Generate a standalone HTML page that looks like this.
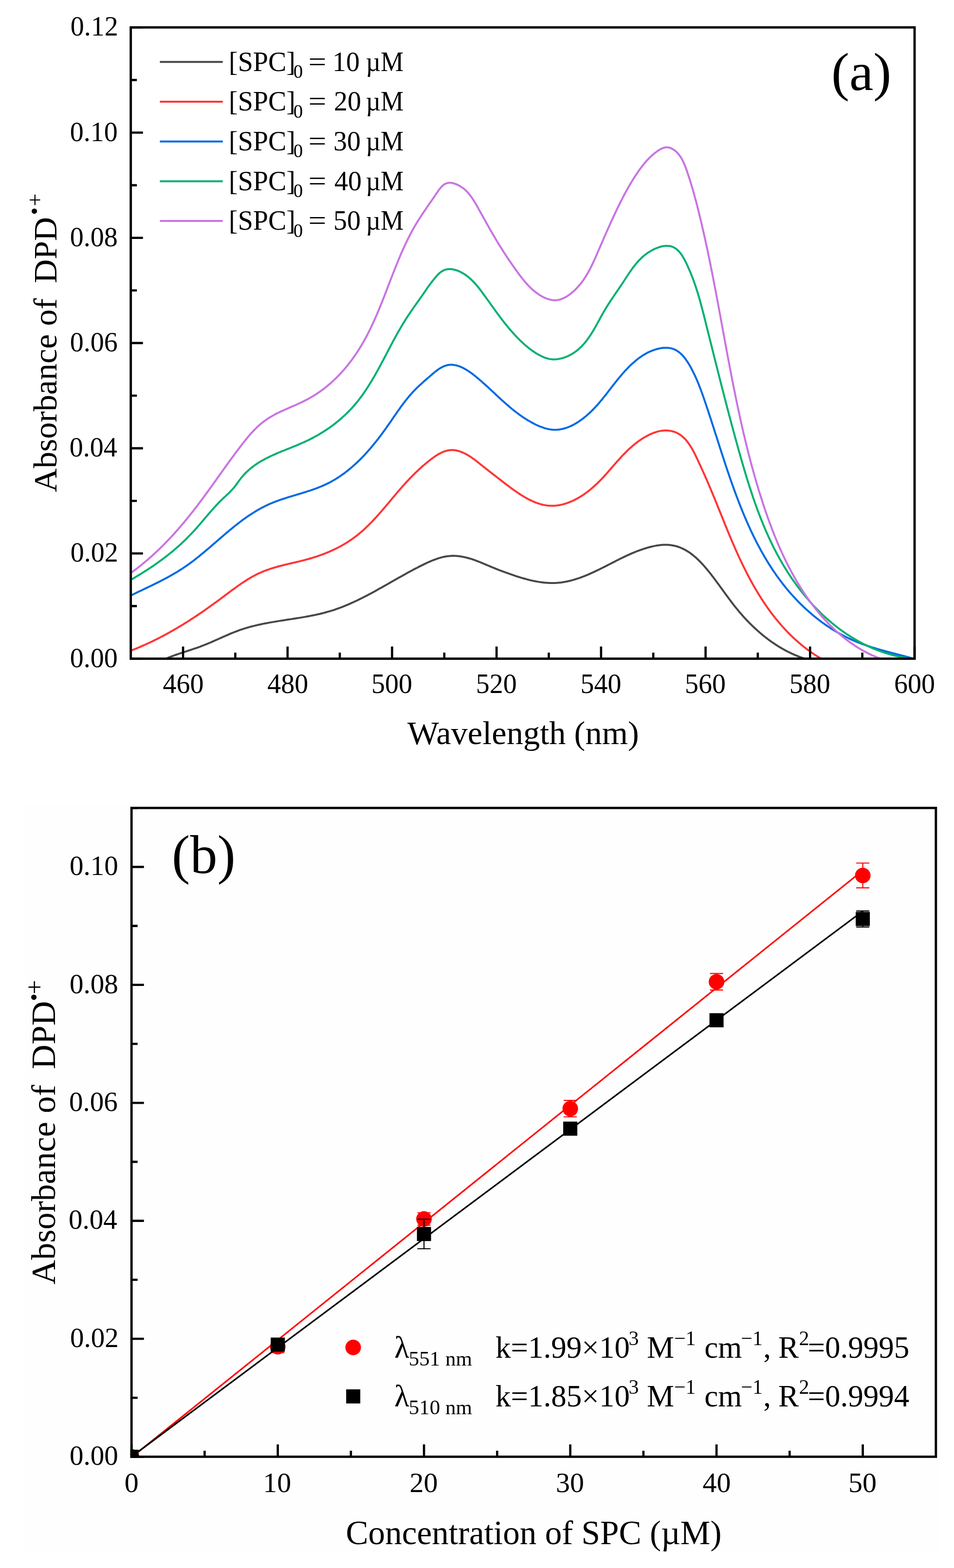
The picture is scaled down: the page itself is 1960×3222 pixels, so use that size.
<!DOCTYPE html>
<html><head><meta charset="utf-8"><title>Figure</title>
<style>html,body{margin:0;padding:0;background:#fff;}svg{display:block;}</style>
</head><body>
<svg width="1960" height="3222" viewBox="0 0 1960 3222" font-family="'Liberation Serif','Times New Roman',serif">
<rect x="0" y="0" width="1960" height="3222" fill="#ffffff"/>
<rect x="52" y="1653" width="1878" height="1534.5" fill="#fefefe"/>
<defs><clipPath id="clipA"><rect x="268.7" y="56.3" width="1610.3" height="1297.2"/></clipPath>
<clipPath id="clipB"><rect x="267.8" y="1657.8" width="1657.3999999999999" height="1338.0"/></clipPath></defs>
<g clip-path="url(#clipA)" fill="none" stroke-width="4" stroke-linejoin="round" stroke-linecap="round">
<path d="M335.1,1356.1 L337.8,1354.8 L340.5,1353.6 L343.3,1352.5 L346.0,1351.3 L348.8,1350.2 L351.6,1349.2 L354.4,1348.1 L357.2,1347.1 L360.0,1346.0 L362.8,1345.0 L365.7,1344.1 L368.5,1343.1 L371.3,1342.1 L374.2,1341.2 L377.0,1340.3 L379.9,1339.3 L382.7,1338.4 L385.6,1337.5 L388.4,1336.5 L391.3,1335.6 L394.1,1334.7 L397.0,1333.7 L399.8,1332.7 L402.6,1331.8 L405.5,1330.8 L408.3,1329.8 L411.1,1328.8 L413.9,1327.7 L416.7,1326.6 L419.5,1325.5 L422.3,1324.4 L425.1,1323.3 L427.8,1322.1 L430.6,1321.0 L433.4,1319.8 L436.1,1318.6 L438.9,1317.4 L441.6,1316.2 L444.3,1315.0 L447.1,1313.8 L449.8,1312.5 L452.6,1311.3 L455.3,1310.1 L458.0,1308.9 L460.8,1307.7 L463.5,1306.4 L466.3,1305.3 L469.0,1304.1 L471.8,1302.9 L474.5,1301.7 L477.3,1300.6 L480.1,1299.5 L482.8,1298.4 L485.6,1297.3 L488.4,1296.3 L491.2,1295.2 L494.0,1294.2 L496.8,1293.3 L499.7,1292.3 L502.5,1291.4 L505.4,1290.6 L508.2,1289.7 L511.1,1288.9 L514.0,1288.1 L516.9,1287.3 L519.8,1286.6 L522.7,1285.9 L525.6,1285.1 L528.5,1284.5 L531.4,1283.8 L534.4,1283.2 L537.3,1282.5 L540.3,1281.9 L543.2,1281.3 L546.2,1280.8 L549.1,1280.2 L552.1,1279.6 L555.0,1279.1 L558.0,1278.6 L561.0,1278.1 L564.0,1277.6 L566.9,1277.1 L569.9,1276.6 L572.9,1276.1 L575.9,1275.6 L578.9,1275.2 L581.9,1274.7 L584.9,1274.2 L587.9,1273.8 L590.8,1273.3 L593.8,1272.8 L596.8,1272.4 L599.8,1271.9 L602.8,1271.5 L605.8,1271.0 L608.8,1270.5 L611.8,1270.1 L614.7,1269.6 L617.7,1269.1 L620.7,1268.6 L623.6,1268.1 L626.6,1267.6 L629.6,1267.0 L632.5,1266.5 L635.5,1266.0 L638.4,1265.4 L641.4,1264.8 L644.3,1264.2 L647.2,1263.6 L650.2,1263.0 L653.1,1262.3 L656.0,1261.7 L658.9,1261.0 L661.8,1260.3 L664.6,1259.6 L667.5,1258.8 L670.4,1258.0 L673.2,1257.2 L676.1,1256.4 L678.9,1255.6 L681.8,1254.7 L684.6,1253.8 L687.4,1252.9 L690.2,1251.9 L693.0,1250.9 L695.8,1249.9 L698.5,1248.9 L701.3,1247.9 L704.0,1246.8 L706.8,1245.7 L709.5,1244.6 L712.3,1243.4 L715.0,1242.3 L717.7,1241.1 L720.4,1239.9 L723.1,1238.7 L725.8,1237.5 L728.5,1236.2 L731.2,1235.0 L733.9,1233.7 L736.6,1232.4 L739.2,1231.1 L741.9,1229.8 L744.6,1228.5 L747.2,1227.1 L749.9,1225.7 L752.5,1224.4 L755.2,1223.0 L757.8,1221.6 L760.5,1220.2 L763.1,1218.8 L765.7,1217.4 L768.4,1215.9 L771.0,1214.5 L773.6,1213.0 L776.2,1211.6 L778.8,1210.1 L781.5,1208.6 L784.1,1207.2 L786.7,1205.7 L789.3,1204.2 L791.9,1202.7 L794.6,1201.2 L797.2,1199.8 L799.8,1198.3 L802.4,1196.8 L805.0,1195.3 L807.6,1193.8 L810.3,1192.3 L812.9,1190.8 L815.5,1189.3 L818.1,1187.8 L820.8,1186.3 L823.4,1184.9 L826.0,1183.4 L828.6,1181.9 L831.3,1180.4 L833.9,1179.0 L836.6,1177.5 L839.2,1176.1 L841.9,1174.6 L844.5,1173.2 L847.2,1171.8 L849.8,1170.3 L852.5,1168.9 L855.2,1167.5 L857.9,1166.2 L860.5,1164.8 L863.2,1163.4 L865.9,1162.1 L868.6,1160.7 L871.3,1159.4 L874.1,1158.1 L876.8,1156.8 L879.5,1155.5 L882.2,1154.3 L885.0,1153.1 L887.7,1152.0 L890.5,1150.9 L893.3,1149.8 L896.1,1148.8 L898.8,1147.8 L901.7,1146.9 L904.5,1146.1 L907.3,1145.3 L910.1,1144.6 L913.0,1144.0 L915.8,1143.5 L918.7,1143.0 L921.6,1142.7 L924.5,1142.4 L927.4,1142.2 L930.3,1142.1 L933.2,1142.2 L936.2,1142.3 L939.1,1142.5 L942.1,1142.8 L945.1,1143.2 L948.0,1143.6 L951.0,1144.2 L953.9,1144.8 L956.9,1145.4 L959.8,1146.2 L962.8,1147.0 L965.7,1147.8 L968.6,1148.7 L971.5,1149.7 L974.4,1150.7 L977.2,1151.7 L980.1,1152.8 L982.9,1153.9 L985.7,1155.0 L988.6,1156.1 L991.4,1157.3 L994.2,1158.5 L996.9,1159.6 L999.7,1160.8 L1002.5,1162.0 L1005.3,1163.2 L1008.0,1164.3 L1010.8,1165.5 L1013.5,1166.6 L1016.3,1167.7 L1019.0,1168.8 L1021.8,1169.9 L1024.5,1171.0 L1027.3,1172.1 L1030.0,1173.1 L1032.8,1174.2 L1035.6,1175.2 L1038.3,1176.2 L1041.1,1177.2 L1043.9,1178.2 L1046.7,1179.2 L1049.6,1180.2 L1052.4,1181.2 L1055.3,1182.2 L1058.1,1183.1 L1061.0,1184.1 L1063.9,1185.0 L1066.8,1185.9 L1069.7,1186.8 L1072.6,1187.7 L1075.6,1188.5 L1078.5,1189.3 L1081.4,1190.1 L1084.4,1190.9 L1087.4,1191.7 L1090.3,1192.4 L1093.3,1193.1 L1096.3,1193.7 L1099.2,1194.3 L1102.2,1194.9 L1105.2,1195.4 L1108.2,1195.9 L1111.2,1196.3 L1114.1,1196.7 L1117.1,1197.1 L1120.1,1197.4 L1123.1,1197.6 L1126.1,1197.8 L1129.0,1198.0 L1132.0,1198.0 L1135.0,1198.1 L1137.9,1198.0 L1140.9,1197.9 L1143.8,1197.8 L1146.8,1197.5 L1149.7,1197.2 L1152.6,1196.9 L1155.5,1196.5 L1158.5,1196.0 L1161.4,1195.5 L1164.3,1195.0 L1167.1,1194.3 L1170.0,1193.7 L1172.9,1192.9 L1175.8,1192.2 L1178.6,1191.4 L1181.5,1190.5 L1184.3,1189.6 L1187.2,1188.7 L1190.0,1187.8 L1192.8,1186.8 L1195.6,1185.7 L1198.4,1184.7 L1201.2,1183.6 L1204.0,1182.4 L1206.8,1181.3 L1209.5,1180.1 L1212.3,1178.9 L1215.0,1177.7 L1217.8,1176.4 L1220.5,1175.2 L1223.2,1173.9 L1225.9,1172.6 L1228.6,1171.3 L1231.3,1170.0 L1234.0,1168.7 L1236.7,1167.3 L1239.4,1166.0 L1242.1,1164.6 L1244.7,1163.3 L1247.4,1161.9 L1250.1,1160.5 L1252.7,1159.2 L1255.4,1157.8 L1258.0,1156.4 L1260.7,1155.1 L1263.4,1153.7 L1266.0,1152.3 L1268.7,1151.0 L1271.4,1149.7 L1274.0,1148.3 L1276.7,1147.0 L1279.4,1145.7 L1282.1,1144.4 L1284.8,1143.1 L1287.5,1141.8 L1290.2,1140.6 L1293.0,1139.4 L1295.7,1138.1 L1298.5,1136.9 L1301.2,1135.8 L1304.0,1134.6 L1306.8,1133.5 L1309.6,1132.4 L1312.4,1131.3 L1315.2,1130.3 L1318.1,1129.3 L1321.0,1128.3 L1323.8,1127.4 L1326.8,1126.5 L1329.7,1125.6 L1332.6,1124.8 L1335.6,1124.0 L1338.5,1123.2 L1341.5,1122.6 L1344.5,1121.9 L1347.5,1121.4 L1350.5,1120.8 L1353.5,1120.4 L1356.5,1120.1 L1359.5,1119.8 L1362.5,1119.6 L1365.4,1119.5 L1368.4,1119.5 L1371.3,1119.6 L1374.3,1119.8 L1377.2,1120.1 L1380.1,1120.5 L1382.9,1120.9 L1385.8,1121.5 L1388.6,1122.2 L1391.4,1123.0 L1394.1,1123.9 L1396.8,1124.9 L1399.5,1126.0 L1402.1,1127.1 L1404.7,1128.4 L1407.3,1129.7 L1409.8,1131.2 L1412.3,1132.7 L1414.8,1134.2 L1417.2,1135.9 L1419.6,1137.6 L1421.9,1139.4 L1424.3,1141.2 L1426.6,1143.2 L1428.9,1145.1 L1431.1,1147.1 L1433.3,1149.2 L1435.5,1151.3 L1437.7,1153.5 L1439.8,1155.7 L1441.9,1157.9 L1444.0,1160.2 L1446.1,1162.5 L1448.1,1164.8 L1450.1,1167.1 L1452.1,1169.5 L1454.1,1171.9 L1456.0,1174.3 L1458.0,1176.7 L1459.9,1179.1 L1461.8,1181.5 L1463.6,1183.9 L1465.5,1186.3 L1467.3,1188.8 L1469.1,1191.2 L1470.9,1193.6 L1472.7,1196.0 L1474.5,1198.5 L1476.3,1200.9 L1478.1,1203.3 L1479.8,1205.7 L1481.6,1208.1 L1483.3,1210.5 L1485.1,1213.0 L1486.8,1215.4 L1488.6,1217.8 L1490.3,1220.2 L1492.1,1222.6 L1493.8,1225.0 L1495.6,1227.3 L1497.3,1229.7 L1499.1,1232.1 L1500.9,1234.5 L1502.6,1236.8 L1504.4,1239.2 L1506.2,1241.5 L1508.0,1243.9 L1509.9,1246.2 L1511.7,1248.5 L1513.6,1250.8 L1515.5,1253.1 L1517.4,1255.4 L1519.3,1257.7 L1521.2,1259.9 L1523.2,1262.2 L1525.1,1264.4 L1527.1,1266.7 L1529.1,1268.9 L1531.2,1271.1 L1533.2,1273.3 L1535.3,1275.5 L1537.4,1277.6 L1539.5,1279.8 L1541.6,1281.9 L1543.7,1284.0 L1545.9,1286.1 L1548.0,1288.2 L1550.2,1290.3 L1552.4,1292.3 L1554.6,1294.3 L1556.9,1296.3 L1559.1,1298.3 L1561.4,1300.3 L1563.7,1302.2 L1566.0,1304.2 L1568.3,1306.1 L1570.7,1308.0 L1573.1,1309.8 L1575.4,1311.6 L1577.8,1313.5 L1580.2,1315.3 L1582.7,1317.0 L1585.1,1318.8 L1587.6,1320.5 L1590.1,1322.2 L1592.6,1323.8 L1595.1,1325.5 L1597.6,1327.1 L1600.1,1328.7 L1602.7,1330.2 L1605.3,1331.8 L1607.9,1333.3 L1610.5,1334.7 L1613.1,1336.2 L1615.8,1337.6 L1618.4,1339.0 L1621.1,1340.3 L1623.8,1341.6 L1626.5,1342.9 L1629.2,1344.1 L1632.0,1345.4 L1634.7,1346.6 L1637.5,1347.7 L1640.3,1348.8 L1643.1,1349.9 L1645.9,1350.9 L1648.7,1352.0 L1651.6,1352.9 L1654.4,1353.9 L1657.3,1354.8 L1660.2,1355.6" stroke="#474747"/>
<path d="M269.7,1336.6 L272.6,1335.5 L275.4,1334.4 L278.2,1333.3 L281.0,1332.1 L283.8,1331.0 L286.5,1329.8 L289.3,1328.6 L292.1,1327.4 L294.8,1326.2 L297.6,1325.0 L300.3,1323.7 L303.0,1322.5 L305.7,1321.2 L308.5,1320.0 L311.2,1318.7 L313.9,1317.4 L316.5,1316.1 L319.2,1314.7 L321.9,1313.4 L324.6,1312.1 L327.2,1310.7 L329.9,1309.3 L332.5,1308.0 L335.2,1306.6 L337.8,1305.2 L340.4,1303.8 L343.0,1302.3 L345.6,1300.9 L348.2,1299.5 L350.8,1298.0 L353.4,1296.5 L356.0,1295.1 L358.6,1293.6 L361.2,1292.1 L363.7,1290.6 L366.3,1289.0 L368.8,1287.5 L371.4,1286.0 L373.9,1284.4 L376.5,1282.9 L379.0,1281.3 L381.5,1279.7 L384.1,1278.1 L386.6,1276.6 L389.1,1275.0 L391.6,1273.3 L394.1,1271.7 L396.6,1270.1 L399.1,1268.5 L401.6,1266.8 L404.1,1265.2 L406.6,1263.5 L409.0,1261.8 L411.5,1260.1 L414.0,1258.5 L416.4,1256.8 L418.9,1255.1 L421.4,1253.4 L423.8,1251.6 L426.3,1249.9 L428.7,1248.2 L431.2,1246.4 L433.6,1244.7 L436.1,1242.9 L438.5,1241.2 L440.9,1239.4 L443.4,1237.6 L445.8,1235.9 L448.2,1234.1 L450.6,1232.3 L453.1,1230.5 L455.5,1228.7 L457.9,1226.9 L460.3,1225.1 L462.7,1223.2 L465.2,1221.4 L467.6,1219.6 L470.0,1217.8 L472.4,1216.0 L474.8,1214.2 L477.3,1212.4 L479.7,1210.6 L482.1,1208.8 L484.6,1207.0 L487.0,1205.3 L489.5,1203.5 L491.9,1201.8 L494.4,1200.1 L496.9,1198.4 L499.4,1196.7 L501.9,1195.1 L504.4,1193.5 L506.9,1191.9 L509.4,1190.3 L512.0,1188.8 L514.5,1187.2 L517.1,1185.8 L519.7,1184.3 L522.3,1182.9 L524.9,1181.5 L527.5,1180.2 L530.2,1178.9 L532.8,1177.7 L535.5,1176.5 L538.2,1175.3 L540.9,1174.2 L543.7,1173.1 L546.4,1172.0 L549.2,1171.0 L552.0,1170.1 L554.8,1169.1 L557.6,1168.2 L560.4,1167.3 L563.3,1166.5 L566.1,1165.6 L569.0,1164.8 L571.9,1164.0 L574.7,1163.2 L577.6,1162.5 L580.5,1161.8 L583.4,1161.0 L586.3,1160.3 L589.2,1159.6 L592.2,1158.9 L595.1,1158.2 L598.0,1157.5 L600.9,1156.8 L603.9,1156.1 L606.8,1155.5 L609.7,1154.8 L612.7,1154.1 L615.6,1153.4 L618.5,1152.6 L621.4,1151.9 L624.4,1151.2 L627.3,1150.4 L630.2,1149.6 L633.1,1148.8 L636.0,1148.0 L638.9,1147.2 L641.8,1146.3 L644.6,1145.4 L647.5,1144.5 L650.4,1143.6 L653.2,1142.6 L656.1,1141.6 L658.9,1140.6 L661.7,1139.6 L664.5,1138.5 L667.3,1137.5 L670.1,1136.4 L672.8,1135.2 L675.6,1134.1 L678.3,1132.9 L681.1,1131.7 L683.8,1130.4 L686.5,1129.1 L689.2,1127.9 L691.8,1126.5 L694.5,1125.2 L697.1,1123.8 L699.7,1122.4 L702.3,1120.9 L704.9,1119.5 L707.5,1118.0 L710.0,1116.5 L712.6,1114.9 L715.1,1113.3 L717.5,1111.7 L720.0,1110.0 L722.5,1108.4 L724.9,1106.7 L727.3,1104.9 L729.6,1103.1 L732.0,1101.3 L734.3,1099.5 L736.6,1097.6 L738.9,1095.7 L741.2,1093.8 L743.4,1091.9 L745.7,1089.9 L747.9,1087.9 L750.1,1085.9 L752.3,1083.8 L754.4,1081.7 L756.6,1079.6 L758.7,1077.5 L760.8,1075.4 L762.9,1073.3 L765.0,1071.1 L767.1,1068.9 L769.1,1066.7 L771.2,1064.5 L773.2,1062.3 L775.2,1060.0 L777.3,1057.8 L779.3,1055.5 L781.3,1053.2 L783.3,1051.0 L785.2,1048.7 L787.2,1046.4 L789.2,1044.1 L791.2,1041.8 L793.1,1039.4 L795.1,1037.1 L797.0,1034.8 L799.0,1032.5 L800.9,1030.2 L802.9,1027.9 L804.8,1025.5 L806.7,1023.2 L808.7,1020.9 L810.6,1018.6 L812.6,1016.3 L814.5,1014.0 L816.4,1011.7 L818.4,1009.4 L820.3,1007.2 L822.3,1004.9 L824.3,1002.7 L826.2,1000.4 L828.2,998.2 L830.2,996.0 L832.1,993.8 L834.1,991.6 L836.1,989.4 L838.1,987.3 L840.2,985.1 L842.2,983.0 L844.2,980.9 L846.3,978.8 L848.4,976.7 L850.5,974.6 L852.6,972.5 L854.7,970.4 L856.8,968.4 L859.0,966.4 L861.2,964.3 L863.4,962.3 L865.6,960.3 L867.8,958.3 L870.1,956.4 L872.4,954.4 L874.7,952.4 L877.1,950.5 L879.5,948.5 L881.9,946.6 L884.3,944.7 L886.8,942.8 L889.3,941.0 L891.8,939.2 L894.3,937.4 L896.9,935.7 L899.5,934.1 L902.1,932.6 L904.8,931.2 L907.5,929.9 L910.1,928.7 L912.9,927.7 L915.6,926.8 L918.3,926.0 L921.1,925.4 L923.9,925.0 L926.7,924.8 L929.6,924.8 L932.4,924.9 L935.3,925.3 L938.1,925.8 L941.0,926.5 L943.8,927.3 L946.7,928.3 L949.5,929.4 L952.4,930.7 L955.2,932.0 L957.9,933.4 L960.7,935.0 L963.4,936.6 L966.1,938.3 L968.7,940.1 L971.3,941.9 L973.9,943.7 L976.4,945.6 L978.9,947.5 L981.3,949.4 L983.7,951.3 L986.1,953.3 L988.4,955.1 L990.8,957.0 L993.0,958.8 L995.3,960.6 L997.6,962.4 L999.8,964.2 L1002.1,965.9 L1004.3,967.7 L1006.5,969.4 L1008.7,971.1 L1011.0,972.9 L1013.2,974.6 L1015.4,976.3 L1017.7,978.0 L1019.9,979.8 L1022.2,981.5 L1024.5,983.3 L1026.8,985.1 L1029.1,986.9 L1031.5,988.7 L1033.8,990.6 L1036.2,992.4 L1038.7,994.3 L1041.1,996.1 L1043.6,998.0 L1046.1,999.9 L1048.6,1001.8 L1051.1,1003.6 L1053.6,1005.5 L1056.2,1007.3 L1058.8,1009.1 L1061.4,1010.9 L1064.0,1012.7 L1066.6,1014.5 L1069.3,1016.2 L1071.9,1017.9 L1074.6,1019.5 L1077.3,1021.1 L1080.0,1022.7 L1082.7,1024.2 L1085.5,1025.7 L1088.2,1027.1 L1091.0,1028.4 L1093.8,1029.7 L1096.5,1030.9 L1099.3,1032.1 L1102.1,1033.2 L1104.9,1034.2 L1107.7,1035.1 L1110.6,1035.9 L1113.4,1036.7 L1116.2,1037.4 L1119.1,1037.9 L1121.9,1038.4 L1124.7,1038.8 L1127.6,1039.1 L1130.5,1039.3 L1133.3,1039.3 L1136.2,1039.3 L1139.0,1039.2 L1141.9,1039.0 L1144.8,1038.6 L1147.6,1038.2 L1150.5,1037.7 L1153.3,1037.1 L1156.1,1036.4 L1159.0,1035.7 L1161.8,1034.8 L1164.6,1033.9 L1167.4,1032.9 L1170.2,1031.9 L1172.9,1030.7 L1175.7,1029.5 L1178.4,1028.3 L1181.1,1026.9 L1183.8,1025.5 L1186.5,1024.1 L1189.1,1022.6 L1191.7,1021.0 L1194.3,1019.4 L1196.9,1017.8 L1199.4,1016.1 L1201.9,1014.3 L1204.4,1012.5 L1206.9,1010.7 L1209.3,1008.9 L1211.7,1007.0 L1214.0,1005.1 L1216.3,1003.1 L1218.6,1001.1 L1220.8,999.1 L1223.0,997.1 L1225.2,995.1 L1227.4,993.0 L1229.5,990.9 L1231.6,988.8 L1233.6,986.7 L1235.7,984.6 L1237.7,982.4 L1239.7,980.3 L1241.7,978.1 L1243.7,975.9 L1245.7,973.7 L1247.6,971.5 L1249.6,969.3 L1251.5,967.1 L1253.5,964.8 L1255.4,962.6 L1257.3,960.4 L1259.2,958.2 L1261.2,955.9 L1263.1,953.7 L1265.1,951.5 L1267.0,949.2 L1269.0,947.0 L1271.0,944.8 L1273.0,942.6 L1275.0,940.4 L1277.0,938.2 L1279.0,936.1 L1281.1,933.9 L1283.2,931.8 L1285.3,929.6 L1287.4,927.5 L1289.6,925.4 L1291.8,923.3 L1294.0,921.3 L1296.3,919.2 L1298.6,917.2 L1300.9,915.2 L1303.3,913.3 L1305.7,911.3 L1308.2,909.4 L1310.7,907.5 L1313.3,905.7 L1315.9,903.9 L1318.5,902.1 L1321.1,900.4 L1323.8,898.8 L1326.6,897.2 L1329.3,895.7 L1332.1,894.2 L1334.8,892.8 L1337.7,891.6 L1340.5,890.4 L1343.3,889.3 L1346.2,888.3 L1349.0,887.4 L1351.9,886.6 L1354.8,885.9 L1357.6,885.4 L1360.5,885.0 L1363.4,884.7 L1366.2,884.5 L1369.1,884.5 L1371.9,884.7 L1374.8,884.9 L1377.6,885.4 L1380.4,886.0 L1383.1,886.7 L1385.8,887.5 L1388.4,888.5 L1391.0,889.7 L1393.5,891.0 L1395.9,892.4 L1398.2,894.0 L1400.5,895.7 L1402.6,897.5 L1404.7,899.4 L1406.8,901.5 L1408.8,903.6 L1410.7,905.8 L1412.5,908.2 L1414.3,910.6 L1416.1,913.0 L1417.8,915.6 L1419.4,918.2 L1421.0,920.9 L1422.6,923.6 L1424.1,926.3 L1425.6,929.1 L1427.0,931.9 L1428.4,934.7 L1429.8,937.6 L1431.2,940.4 L1432.6,943.3 L1433.9,946.2 L1435.2,949.0 L1436.5,951.8 L1437.8,954.6 L1439.1,957.4 L1440.4,960.2 L1441.6,963.0 L1442.9,965.7 L1444.1,968.5 L1445.4,971.2 L1446.6,974.0 L1447.8,976.7 L1449.0,979.4 L1450.2,982.1 L1451.4,984.8 L1452.6,987.5 L1453.7,990.2 L1454.9,993.0 L1456.1,995.7 L1457.2,998.4 L1458.4,1001.1 L1459.5,1003.8 L1460.7,1006.5 L1461.8,1009.2 L1462.9,1011.9 L1464.1,1014.6 L1465.2,1017.3 L1466.3,1020.1 L1467.4,1022.8 L1468.6,1025.5 L1469.7,1028.3 L1470.8,1031.0 L1471.9,1033.7 L1473.0,1036.5 L1474.1,1039.2 L1475.2,1042.0 L1476.3,1044.7 L1477.5,1047.5 L1478.6,1050.3 L1479.7,1053.0 L1480.8,1055.8 L1481.9,1058.6 L1483.0,1061.3 L1484.1,1064.1 L1485.2,1066.9 L1486.4,1069.6 L1487.5,1072.4 L1488.6,1075.2 L1489.7,1077.9 L1490.9,1080.7 L1492.0,1083.5 L1493.1,1086.3 L1494.3,1089.0 L1495.4,1091.8 L1496.5,1094.6 L1497.7,1097.3 L1498.8,1100.1 L1500.0,1102.9 L1501.2,1105.7 L1502.3,1108.4 L1503.5,1111.2 L1504.7,1114.0 L1505.9,1116.7 L1507.1,1119.5 L1508.3,1122.2 L1509.5,1125.0 L1510.7,1127.8 L1511.9,1130.5 L1513.1,1133.3 L1514.4,1136.0 L1515.6,1138.8 L1516.9,1141.5 L1518.1,1144.3 L1519.4,1147.0 L1520.7,1149.7 L1521.9,1152.5 L1523.2,1155.2 L1524.5,1157.9 L1525.9,1160.6 L1527.2,1163.3 L1528.5,1166.0 L1529.8,1168.7 L1531.2,1171.4 L1532.6,1174.1 L1533.9,1176.8 L1535.3,1179.5 L1536.7,1182.2 L1538.1,1184.8 L1539.5,1187.5 L1540.9,1190.2 L1542.4,1192.8 L1543.8,1195.5 L1545.3,1198.1 L1546.7,1200.7 L1548.2,1203.3 L1549.7,1205.9 L1551.2,1208.5 L1552.7,1211.1 L1554.3,1213.7 L1555.8,1216.3 L1557.4,1218.9 L1558.9,1221.4 L1560.5,1224.0 L1562.1,1226.5 L1563.7,1229.1 L1565.3,1231.6 L1566.9,1234.1 L1568.6,1236.6 L1570.2,1239.1 L1571.9,1241.5 L1573.6,1244.0 L1575.3,1246.5 L1577.0,1248.9 L1578.7,1251.3 L1580.5,1253.8 L1582.2,1256.2 L1584.0,1258.6 L1585.8,1261.0 L1587.6,1263.3 L1589.4,1265.7 L1591.3,1268.0 L1593.1,1270.4 L1595.0,1272.7 L1596.9,1275.0 L1598.8,1277.3 L1600.7,1279.5 L1602.6,1281.8 L1604.5,1284.0 L1606.5,1286.3 L1608.5,1288.5 L1610.5,1290.7 L1612.5,1292.9 L1614.5,1295.1 L1616.6,1297.2 L1618.6,1299.3 L1620.7,1301.5 L1622.8,1303.6 L1624.9,1305.7 L1627.1,1307.7 L1629.2,1309.8 L1631.4,1311.8 L1633.6,1313.8 L1635.8,1315.8 L1638.1,1317.8 L1640.3,1319.8 L1642.6,1321.7 L1644.9,1323.7 L1647.2,1325.6 L1649.5,1327.5 L1651.8,1329.3 L1654.2,1331.2 L1656.6,1333.0 L1659.0,1334.8 L1661.4,1336.6 L1663.9,1338.4 L1666.3,1340.1 L1668.8,1341.9 L1671.3,1343.6 L1673.9,1345.3 L1676.4,1346.9 L1679.0,1348.6 L1681.6,1350.2 L1684.2,1351.8 L1686.9,1353.4 L1689.5,1355.0 L1692.2,1356.5" stroke="#ff3535"/>
<path d="M269.9,1223.1 L272.6,1221.8 L275.2,1220.5 L277.9,1219.2 L280.6,1217.9 L283.3,1216.6 L286.0,1215.3 L288.7,1214.0 L291.4,1212.8 L294.0,1211.5 L296.7,1210.2 L299.4,1208.9 L302.1,1207.6 L304.9,1206.3 L307.6,1205.0 L310.3,1203.7 L313.0,1202.4 L315.7,1201.1 L318.3,1199.7 L321.0,1198.4 L323.7,1197.1 L326.4,1195.7 L329.1,1194.4 L331.8,1193.0 L334.4,1191.6 L337.1,1190.2 L339.8,1188.8 L342.4,1187.4 L345.0,1186.0 L347.7,1184.5 L350.3,1183.1 L352.9,1181.6 L355.5,1180.1 L358.1,1178.6 L360.7,1177.1 L363.2,1175.6 L365.8,1174.0 L368.3,1172.4 L370.8,1170.8 L373.4,1169.2 L375.8,1167.6 L378.3,1165.9 L380.8,1164.2 L383.2,1162.5 L385.7,1160.8 L388.1,1159.1 L390.5,1157.3 L392.9,1155.5 L395.3,1153.8 L397.7,1152.0 L400.0,1150.1 L402.4,1148.3 L404.7,1146.5 L407.1,1144.6 L409.4,1142.7 L411.7,1140.8 L414.0,1138.9 L416.3,1137.0 L418.6,1135.1 L420.9,1133.2 L423.2,1131.3 L425.5,1129.3 L427.8,1127.4 L430.1,1125.5 L432.3,1123.5 L434.6,1121.5 L436.9,1119.6 L439.1,1117.6 L441.4,1115.7 L443.7,1113.7 L445.9,1111.7 L448.2,1109.8 L450.5,1107.8 L452.7,1105.8 L455.0,1103.9 L457.3,1101.9 L459.5,1100.0 L461.8,1098.0 L464.1,1096.1 L466.4,1094.1 L468.7,1092.2 L471.0,1090.3 L473.3,1088.4 L475.6,1086.5 L477.9,1084.6 L480.2,1082.7 L482.6,1080.8 L484.9,1079.0 L487.2,1077.1 L489.6,1075.3 L492.0,1073.5 L494.3,1071.7 L496.7,1069.9 L499.1,1068.1 L501.5,1066.4 L504.0,1064.6 L506.4,1062.9 L508.8,1061.2 L511.3,1059.5 L513.8,1057.9 L516.3,1056.3 L518.8,1054.6 L521.3,1053.1 L523.8,1051.5 L526.3,1050.0 L528.9,1048.5 L531.5,1047.0 L534.1,1045.5 L536.7,1044.1 L539.3,1042.7 L541.9,1041.4 L544.6,1040.0 L547.3,1038.7 L550.0,1037.4 L552.7,1036.2 L555.4,1035.0 L558.2,1033.8 L561.0,1032.7 L563.8,1031.6 L566.6,1030.5 L569.4,1029.5 L572.2,1028.4 L575.1,1027.4 L577.9,1026.4 L580.8,1025.5 L583.7,1024.5 L586.6,1023.6 L589.5,1022.6 L592.4,1021.7 L595.3,1020.8 L598.2,1019.9 L601.2,1019.1 L604.1,1018.2 L607.0,1017.3 L609.9,1016.4 L612.9,1015.5 L615.8,1014.7 L618.7,1013.8 L621.6,1012.9 L624.5,1012.0 L627.4,1011.1 L630.3,1010.2 L633.2,1009.2 L636.1,1008.3 L639.0,1007.3 L641.8,1006.4 L644.7,1005.4 L647.5,1004.3 L650.4,1003.3 L653.2,1002.2 L656.0,1001.1 L658.7,1000.0 L661.5,998.9 L664.2,997.7 L666.9,996.4 L669.6,995.2 L672.3,993.9 L674.9,992.6 L677.6,991.2 L680.2,989.8 L682.8,988.4 L685.3,986.9 L687.9,985.4 L690.4,983.9 L692.9,982.3 L695.4,980.7 L697.8,979.1 L700.3,977.4 L702.7,975.7 L705.1,974.0 L707.5,972.3 L709.8,970.5 L712.2,968.7 L714.5,966.9 L716.8,965.0 L719.1,963.1 L721.4,961.2 L723.6,959.3 L725.9,957.3 L728.1,955.3 L730.3,953.3 L732.5,951.3 L734.6,949.3 L736.8,947.2 L738.9,945.1 L741.0,943.0 L743.1,940.9 L745.2,938.7 L747.3,936.6 L749.3,934.4 L751.4,932.2 L753.4,929.9 L755.4,927.7 L757.4,925.4 L759.4,923.2 L761.3,920.9 L763.3,918.6 L765.2,916.3 L767.1,914.0 L769.0,911.6 L770.9,909.3 L772.8,906.9 L774.7,904.5 L776.6,902.2 L778.4,899.8 L780.2,897.4 L782.1,895.0 L783.9,892.5 L785.7,890.1 L787.4,887.7 L789.2,885.3 L791.0,882.8 L792.7,880.4 L794.5,877.9 L796.2,875.4 L797.9,873.0 L799.6,870.5 L801.4,868.1 L803.1,865.6 L804.8,863.1 L806.4,860.7 L808.1,858.2 L809.8,855.7 L811.5,853.3 L813.2,850.8 L814.9,848.4 L816.6,845.9 L818.3,843.5 L820.1,841.1 L821.8,838.6 L823.5,836.2 L825.3,833.8 L827.0,831.4 L828.8,829.1 L830.6,826.7 L832.4,824.3 L834.3,822.0 L836.1,819.7 L838.0,817.4 L839.9,815.1 L841.8,812.8 L843.8,810.6 L845.8,808.3 L847.8,806.1 L849.8,803.9 L851.9,801.8 L854.0,799.6 L856.1,797.5 L858.3,795.4 L860.5,793.3 L862.7,791.2 L865.0,789.2 L867.2,787.2 L869.5,785.1 L871.8,783.1 L874.1,781.1 L876.4,779.0 L878.8,777.0 L881.1,775.0 L883.4,772.9 L885.7,770.9 L888.1,768.9 L890.4,766.9 L892.8,765.0 L895.1,763.1 L897.5,761.3 L899.9,759.5 L902.3,757.9 L904.7,756.3 L907.2,754.9 L909.7,753.7 L912.2,752.5 L914.8,751.6 L917.4,750.8 L920.0,750.1 L922.7,749.7 L925.4,749.5 L928.1,749.5 L930.9,749.7 L933.7,750.1 L936.5,750.6 L939.3,751.3 L942.1,752.2 L944.9,753.2 L947.6,754.3 L950.3,755.6 L953.0,756.9 L955.7,758.4 L958.3,759.9 L961.0,761.6 L963.6,763.3 L966.1,765.1 L968.7,766.9 L971.2,768.8 L973.7,770.8 L976.2,772.7 L978.6,774.7 L981.1,776.8 L983.5,778.8 L985.8,780.8 L988.2,782.8 L990.5,784.9 L992.8,786.9 L995.1,788.9 L997.4,791.0 L999.6,793.0 L1001.9,795.1 L1004.1,797.1 L1006.3,799.2 L1008.5,801.2 L1010.7,803.3 L1012.9,805.3 L1015.1,807.3 L1017.2,809.3 L1019.4,811.4 L1021.6,813.4 L1023.7,815.4 L1025.9,817.4 L1028.1,819.4 L1030.2,821.4 L1032.4,823.4 L1034.6,825.3 L1036.8,827.3 L1039.0,829.2 L1041.2,831.2 L1043.4,833.1 L1045.6,835.0 L1047.8,836.9 L1050.1,838.8 L1052.3,840.7 L1054.6,842.5 L1056.9,844.3 L1059.2,846.2 L1061.6,848.0 L1063.9,849.7 L1066.3,851.5 L1068.7,853.2 L1071.2,855.0 L1073.6,856.6 L1076.1,858.3 L1078.6,860.0 L1081.2,861.6 L1083.8,863.2 L1086.4,864.8 L1089.1,866.3 L1091.8,867.9 L1094.5,869.3 L1097.3,870.8 L1100.0,872.2 L1102.9,873.5 L1105.7,874.8 L1108.5,876.0 L1111.4,877.2 L1114.3,878.2 L1117.2,879.2 L1120.1,880.1 L1123.0,880.9 L1126.0,881.5 L1128.9,882.1 L1131.8,882.6 L1134.7,882.9 L1137.7,883.1 L1140.6,883.2 L1143.5,883.1 L1146.4,882.9 L1149.3,882.5 L1152.2,882.1 L1155.0,881.5 L1157.9,880.8 L1160.7,880.0 L1163.5,879.1 L1166.3,878.1 L1169.1,877.0 L1171.8,875.8 L1174.6,874.6 L1177.3,873.2 L1179.9,871.8 L1182.6,870.3 L1185.2,868.7 L1187.8,867.1 L1190.3,865.4 L1192.8,863.6 L1195.3,861.9 L1197.7,860.0 L1200.1,858.1 L1202.5,856.2 L1204.8,854.3 L1207.1,852.3 L1209.3,850.3 L1211.5,848.3 L1213.7,846.2 L1215.9,844.1 L1218.0,842.0 L1220.0,839.9 L1222.1,837.7 L1224.1,835.5 L1226.1,833.3 L1228.1,831.1 L1230.0,828.9 L1232.0,826.6 L1233.9,824.3 L1235.8,822.1 L1237.7,819.8 L1239.5,817.4 L1241.4,815.1 L1243.3,812.8 L1245.1,810.5 L1246.9,808.1 L1248.8,805.8 L1250.6,803.4 L1252.4,801.0 L1254.2,798.7 L1256.1,796.3 L1257.9,793.9 L1259.7,791.6 L1261.6,789.2 L1263.4,786.9 L1265.3,784.5 L1267.2,782.2 L1269.0,779.8 L1270.9,777.5 L1272.9,775.2 L1274.8,772.9 L1276.7,770.6 L1278.7,768.3 L1280.7,766.0 L1282.7,763.7 L1284.8,761.5 L1286.9,759.3 L1289.0,757.1 L1291.1,754.9 L1293.2,752.7 L1295.4,750.6 L1297.7,748.5 L1299.9,746.4 L1302.2,744.4 L1304.5,742.4 L1306.9,740.4 L1309.2,738.5 L1311.7,736.7 L1314.1,734.9 L1316.6,733.1 L1319.1,731.4 L1321.6,729.8 L1324.2,728.2 L1326.8,726.7 L1329.4,725.3 L1332.1,723.9 L1334.8,722.7 L1337.6,721.5 L1340.3,720.3 L1343.2,719.3 L1346.0,718.4 L1348.9,717.5 L1351.8,716.7 L1354.7,716.1 L1357.7,715.5 L1360.6,715.1 L1363.6,714.8 L1366.5,714.7 L1369.5,714.7 L1372.3,714.8 L1375.2,715.1 L1378.0,715.6 L1380.7,716.3 L1383.4,717.1 L1386.0,718.2 L1388.5,719.4 L1390.9,720.8 L1393.3,722.4 L1395.6,724.1 L1397.8,726.0 L1400.0,728.0 L1402.1,730.2 L1404.1,732.4 L1406.1,734.8 L1408.0,737.2 L1409.8,739.8 L1411.6,742.4 L1413.4,745.0 L1415.0,747.7 L1416.7,750.5 L1418.3,753.2 L1419.8,756.0 L1421.3,758.8 L1422.7,761.6 L1424.1,764.4 L1425.5,767.1 L1426.8,769.9 L1428.1,772.7 L1429.4,775.4 L1430.6,778.2 L1431.8,780.9 L1433.0,783.7 L1434.1,786.4 L1435.2,789.2 L1436.3,791.9 L1437.4,794.7 L1438.4,797.4 L1439.5,800.1 L1440.5,802.9 L1441.5,805.6 L1442.5,808.4 L1443.5,811.1 L1444.4,813.9 L1445.4,816.6 L1446.4,819.4 L1447.3,822.2 L1448.3,824.9 L1449.2,827.7 L1450.2,830.5 L1451.1,833.3 L1452.0,836.1 L1453.0,838.9 L1453.9,841.7 L1454.8,844.5 L1455.8,847.3 L1456.7,850.1 L1457.6,852.9 L1458.5,855.7 L1459.5,858.6 L1460.4,861.4 L1461.3,864.2 L1462.2,867.0 L1463.1,869.9 L1464.1,872.7 L1465.0,875.6 L1465.9,878.4 L1466.8,881.3 L1467.7,884.1 L1468.6,887.0 L1469.5,889.8 L1470.5,892.7 L1471.4,895.5 L1472.3,898.4 L1473.2,901.2 L1474.1,904.1 L1475.0,907.0 L1476.0,909.8 L1476.9,912.7 L1477.8,915.6 L1478.7,918.5 L1479.6,921.3 L1480.6,924.2 L1481.5,927.1 L1482.4,929.9 L1483.4,932.8 L1484.3,935.7 L1485.2,938.6 L1486.2,941.4 L1487.1,944.3 L1488.0,947.2 L1489.0,950.1 L1489.9,952.9 L1490.9,955.8 L1491.8,958.7 L1492.8,961.6 L1493.8,964.4 L1494.7,967.3 L1495.7,970.2 L1496.7,973.0 L1497.7,975.9 L1498.6,978.8 L1499.6,981.6 L1500.6,984.5 L1501.6,987.4 L1502.6,990.2 L1503.6,993.1 L1504.6,995.9 L1505.7,998.8 L1506.7,1001.6 L1507.7,1004.5 L1508.7,1007.3 L1509.8,1010.2 L1510.8,1013.0 L1511.9,1015.9 L1512.9,1018.7 L1514.0,1021.5 L1515.1,1024.4 L1516.1,1027.2 L1517.2,1030.0 L1518.3,1032.8 L1519.4,1035.6 L1520.5,1038.5 L1521.6,1041.3 L1522.7,1044.1 L1523.9,1046.9 L1525.0,1049.7 L1526.1,1052.4 L1527.3,1055.2 L1528.4,1058.0 L1529.6,1060.8 L1530.8,1063.6 L1532.0,1066.3 L1533.2,1069.1 L1534.4,1071.8 L1535.6,1074.6 L1536.8,1077.3 L1538.0,1080.1 L1539.3,1082.8 L1540.5,1085.5 L1541.8,1088.3 L1543.0,1091.0 L1544.3,1093.7 L1545.6,1096.4 L1546.9,1099.1 L1548.2,1101.8 L1549.5,1104.5 L1550.9,1107.1 L1552.2,1109.8 L1553.5,1112.5 L1554.9,1115.1 L1556.3,1117.8 L1557.7,1120.4 L1559.1,1123.1 L1560.5,1125.7 L1561.9,1128.3 L1563.3,1130.9 L1564.8,1133.5 L1566.2,1136.1 L1567.7,1138.7 L1569.2,1141.3 L1570.7,1143.9 L1572.2,1146.4 L1573.7,1149.0 L1575.2,1151.5 L1576.8,1154.1 L1578.3,1156.6 L1579.9,1159.1 L1581.5,1161.6 L1583.1,1164.1 L1584.7,1166.6 L1586.3,1169.1 L1587.9,1171.6 L1589.6,1174.0 L1591.3,1176.5 L1593.0,1178.9 L1594.6,1181.3 L1596.4,1183.8 L1598.1,1186.2 L1599.8,1188.6 L1601.6,1191.0 L1603.4,1193.4 L1605.2,1195.7 L1607.0,1198.1 L1608.8,1200.4 L1610.6,1202.8 L1612.5,1205.1 L1614.3,1207.4 L1616.2,1209.7 L1618.1,1212.0 L1620.0,1214.3 L1622.0,1216.5 L1623.9,1218.8 L1625.9,1221.0 L1627.9,1223.3 L1629.9,1225.5 L1631.9,1227.7 L1633.9,1229.9 L1636.0,1232.0 L1638.1,1234.2 L1640.2,1236.4 L1642.3,1238.5 L1644.4,1240.6 L1646.5,1242.7 L1648.7,1244.8 L1650.9,1246.9 L1653.1,1249.0 L1655.3,1251.0 L1657.5,1253.1 L1659.8,1255.1 L1662.0,1257.1 L1664.3,1259.1 L1666.6,1261.1 L1668.9,1263.0 L1671.2,1265.0 L1673.5,1266.9 L1675.9,1268.8 L1678.3,1270.7 L1680.7,1272.5 L1683.0,1274.4 L1685.5,1276.2 L1687.9,1278.0 L1690.3,1279.8 L1692.8,1281.5 L1695.3,1283.3 L1697.7,1285.0 L1700.2,1286.7 L1702.7,1288.4 L1705.3,1290.1 L1707.8,1291.7 L1710.3,1293.3 L1712.9,1294.9 L1715.5,1296.5 L1718.1,1298.0 L1720.7,1299.5 L1723.3,1301.0 L1725.9,1302.5 L1728.5,1304.0 L1731.2,1305.4 L1733.9,1306.8 L1736.5,1308.1 L1739.2,1309.5 L1741.9,1310.8 L1744.6,1312.1 L1747.3,1313.4 L1750.1,1314.6 L1752.8,1315.8 L1755.5,1317.0 L1758.3,1318.2 L1761.1,1319.3 L1763.9,1320.4 L1766.6,1321.5 L1769.4,1322.6 L1772.2,1323.6 L1775.1,1324.6 L1777.9,1325.6 L1780.7,1326.6 L1783.5,1327.5 L1786.4,1328.5 L1789.2,1329.4 L1792.1,1330.3 L1795.0,1331.2 L1797.8,1332.0 L1800.7,1332.9 L1803.6,1333.8 L1806.5,1334.6 L1809.3,1335.4 L1812.2,1336.2 L1815.1,1337.0 L1818.0,1337.8 L1820.9,1338.6 L1823.8,1339.4 L1826.7,1340.2 L1829.6,1340.9 L1832.5,1341.7 L1835.4,1342.4 L1838.3,1343.2 L1841.2,1344.0 L1844.1,1344.7 L1847.0,1345.5 L1849.9,1346.2 L1852.8,1347.0 L1855.7,1347.7 L1858.6,1348.5 L1861.5,1349.3 L1864.4,1350.0 L1867.3,1350.8 L1870.2,1351.6 L1873.1,1352.4 L1876.0,1353.2 L1878.9,1354.0" stroke="#006ae2"/>
<path d="M269.6,1190.9 L272.2,1189.4 L274.8,1187.9 L277.4,1186.4 L280.0,1184.9 L282.6,1183.3 L285.1,1181.8 L287.7,1180.2 L290.3,1178.6 L292.8,1177.0 L295.4,1175.4 L297.9,1173.8 L300.4,1172.2 L303.0,1170.6 L305.5,1168.9 L308.0,1167.3 L310.5,1165.6 L313.0,1164.0 L315.4,1162.3 L317.9,1160.6 L320.3,1158.9 L322.8,1157.1 L325.2,1155.4 L327.6,1153.7 L330.1,1151.9 L332.5,1150.1 L334.8,1148.3 L337.2,1146.5 L339.6,1144.7 L342.0,1142.9 L344.3,1141.1 L346.6,1139.2 L349.0,1137.3 L351.3,1135.5 L353.6,1133.6 L355.9,1131.7 L358.2,1129.7 L360.4,1127.8 L362.7,1125.8 L364.9,1123.9 L367.1,1121.9 L369.4,1119.9 L371.6,1117.9 L373.8,1115.9 L375.9,1113.8 L378.1,1111.8 L380.3,1109.7 L382.4,1107.6 L384.5,1105.5 L386.6,1103.4 L388.7,1101.2 L390.8,1099.1 L392.9,1096.9 L395.0,1094.7 L397.0,1092.5 L399.0,1090.3 L401.0,1088.1 L403.1,1085.8 L405.1,1083.6 L407.0,1081.3 L409.0,1079.0 L411.0,1076.8 L413.0,1074.5 L414.9,1072.2 L416.9,1069.9 L418.8,1067.6 L420.8,1065.3 L422.7,1063.0 L424.7,1060.7 L426.6,1058.4 L428.6,1056.1 L430.6,1053.8 L432.5,1051.6 L434.5,1049.3 L436.5,1047.1 L438.5,1044.8 L440.5,1042.6 L442.5,1040.4 L444.5,1038.2 L446.5,1036.1 L448.6,1033.9 L450.6,1031.8 L452.7,1029.7 L454.8,1027.7 L456.9,1025.6 L459.0,1023.6 L461.2,1021.6 L463.3,1019.6 L465.4,1017.6 L467.6,1015.6 L469.7,1013.6 L471.8,1011.5 L473.9,1009.4 L476.0,1007.2 L478.0,1005.0 L480.0,1002.7 L481.9,1000.4 L483.8,998.0 L485.7,995.5 L487.5,993.0 L489.3,990.4 L491.2,987.9 L493.0,985.4 L494.9,982.9 L496.8,980.5 L498.8,978.2 L500.8,975.9 L502.9,973.7 L505.0,971.5 L507.1,969.4 L509.3,967.4 L511.5,965.4 L513.7,963.5 L516.0,961.6 L518.3,959.8 L520.7,958.0 L523.0,956.3 L525.4,954.6 L527.9,953.0 L530.3,951.4 L532.8,949.8 L535.4,948.3 L537.9,946.8 L540.5,945.4 L543.1,943.9 L545.7,942.6 L548.3,941.2 L551.0,939.9 L553.6,938.6 L556.3,937.3 L559.0,936.0 L561.7,934.8 L564.5,933.6 L567.2,932.4 L570.0,931.2 L572.7,930.0 L575.5,928.9 L578.3,927.7 L581.1,926.6 L583.9,925.5 L586.7,924.3 L589.5,923.2 L592.3,922.1 L595.1,921.0 L597.9,919.8 L600.7,918.7 L603.5,917.6 L606.3,916.4 L609.1,915.3 L611.9,914.1 L614.7,912.9 L617.4,911.7 L620.2,910.5 L623.0,909.3 L625.7,908.1 L628.4,906.8 L631.2,905.5 L633.9,904.2 L636.6,902.9 L639.2,901.5 L641.9,900.1 L644.5,898.7 L647.2,897.3 L649.8,895.8 L652.4,894.4 L655.0,892.9 L657.6,891.3 L660.1,889.8 L662.6,888.2 L665.2,886.6 L667.7,885.0 L670.2,883.4 L672.6,881.7 L675.1,880.1 L677.5,878.3 L679.9,876.6 L682.3,874.9 L684.7,873.1 L687.1,871.3 L689.4,869.5 L691.7,867.6 L694.0,865.8 L696.3,863.9 L698.5,862.0 L700.8,860.1 L703.0,858.1 L705.2,856.1 L707.4,854.1 L709.5,852.1 L711.7,850.1 L713.8,848.0 L715.9,845.9 L717.9,843.8 L720.0,841.7 L722.0,839.5 L724.0,837.3 L726.0,835.1 L727.9,832.9 L729.8,830.6 L731.7,828.4 L733.6,826.1 L735.5,823.8 L737.3,821.4 L739.1,819.1 L740.9,816.7 L742.7,814.3 L744.4,811.9 L746.1,809.5 L747.8,807.0 L749.5,804.6 L751.2,802.1 L752.9,799.6 L754.5,797.1 L756.1,794.6 L757.7,792.1 L759.3,789.5 L760.9,786.9 L762.5,784.4 L764.0,781.8 L765.6,779.2 L767.1,776.6 L768.6,774.0 L770.1,771.4 L771.6,768.7 L773.1,766.1 L774.6,763.4 L776.1,760.8 L777.5,758.1 L779.0,755.4 L780.4,752.8 L781.9,750.1 L783.3,747.4 L784.7,744.7 L786.2,742.0 L787.6,739.3 L789.0,736.6 L790.4,734.0 L791.8,731.3 L793.3,728.6 L794.7,725.9 L796.1,723.2 L797.5,720.5 L798.9,717.8 L800.3,715.1 L801.7,712.4 L803.1,709.7 L804.5,707.0 L806.0,704.4 L807.4,701.7 L808.8,699.0 L810.2,696.4 L811.7,693.7 L813.1,691.1 L814.6,688.4 L816.0,685.8 L817.5,683.2 L819.0,680.6 L820.5,678.0 L822.0,675.4 L823.5,672.8 L825.0,670.2 L826.5,667.7 L828.0,665.1 L829.6,662.6 L831.2,660.1 L832.7,657.6 L834.3,655.1 L835.9,652.7 L837.5,650.2 L839.2,647.7 L840.8,645.3 L842.4,642.9 L844.1,640.4 L845.8,638.0 L847.4,635.6 L849.1,633.2 L850.8,630.7 L852.5,628.3 L854.2,625.9 L855.9,623.5 L857.6,621.1 L859.3,618.6 L861.1,616.2 L862.8,613.7 L864.5,611.3 L866.2,608.8 L868.0,606.3 L869.7,603.8 L871.4,601.3 L873.2,598.8 L874.9,596.3 L876.7,593.7 L878.4,591.2 L880.2,588.7 L882.0,586.2 L883.9,583.7 L885.7,581.2 L887.6,578.7 L889.5,576.2 L891.5,573.8 L893.4,571.4 L895.5,569.0 L897.5,566.7 L899.6,564.4 L901.8,562.3 L904.0,560.3 L906.3,558.5 L908.7,557.0 L911.1,555.7 L913.6,554.6 L916.2,553.9 L918.8,553.3 L921.5,553.1 L924.2,553.0 L927.0,553.1 L929.8,553.4 L932.6,554.0 L935.4,554.7 L938.2,555.5 L940.9,556.5 L943.7,557.7 L946.4,559.0 L949.1,560.4 L951.7,561.9 L954.3,563.5 L956.8,565.2 L959.2,566.9 L961.6,568.8 L963.9,570.7 L966.2,572.7 L968.4,574.7 L970.6,576.8 L972.7,579.0 L974.8,581.2 L976.8,583.4 L978.8,585.7 L980.7,588.1 L982.7,590.4 L984.6,592.8 L986.4,595.2 L988.3,597.6 L990.1,600.1 L991.9,602.5 L993.7,605.0 L995.5,607.5 L997.3,609.9 L999.1,612.4 L1000.8,614.8 L1002.6,617.3 L1004.3,619.7 L1006.1,622.2 L1007.8,624.6 L1009.6,627.1 L1011.3,629.5 L1013.1,631.9 L1014.8,634.4 L1016.6,636.8 L1018.3,639.2 L1020.1,641.6 L1021.8,644.0 L1023.6,646.4 L1025.4,648.8 L1027.1,651.1 L1028.9,653.5 L1030.7,655.9 L1032.5,658.2 L1034.3,660.6 L1036.2,662.9 L1038.0,665.2 L1039.9,667.5 L1041.7,669.8 L1043.6,672.1 L1045.5,674.4 L1047.4,676.6 L1049.4,678.9 L1051.3,681.1 L1053.3,683.4 L1055.3,685.6 L1057.3,687.8 L1059.3,690.0 L1061.4,692.1 L1063.5,694.3 L1065.6,696.4 L1067.7,698.6 L1069.9,700.7 L1072.1,702.8 L1074.3,704.8 L1076.5,706.9 L1078.8,708.9 L1081.1,710.9 L1083.4,712.8 L1085.8,714.8 L1088.2,716.6 L1090.6,718.5 L1093.1,720.3 L1095.5,722.0 L1098.1,723.7 L1100.6,725.4 L1103.2,726.9 L1105.8,728.5 L1108.5,729.9 L1111.2,731.3 L1113.9,732.6 L1116.6,733.9 L1119.4,735.0 L1122.2,735.9 L1125.0,736.8 L1127.9,737.4 L1130.8,737.9 L1133.7,738.2 L1136.6,738.4 L1139.6,738.4 L1142.5,738.2 L1145.5,737.9 L1148.4,737.5 L1151.4,736.9 L1154.3,736.2 L1157.2,735.4 L1160.1,734.4 L1162.9,733.3 L1165.7,732.2 L1168.5,730.9 L1171.2,729.5 L1173.9,728.0 L1176.5,726.5 L1179.1,724.8 L1181.6,723.1 L1184.0,721.3 L1186.3,719.5 L1188.6,717.6 L1190.8,715.6 L1193.0,713.6 L1195.1,711.5 L1197.1,709.4 L1199.1,707.2 L1201.0,705.0 L1202.9,702.7 L1204.8,700.3 L1206.6,698.0 L1208.3,695.6 L1210.0,693.1 L1211.7,690.7 L1213.4,688.2 L1215.0,685.6 L1216.6,683.1 L1218.2,680.5 L1219.7,677.9 L1221.2,675.3 L1222.7,672.7 L1224.2,670.0 L1225.7,667.4 L1227.2,664.7 L1228.6,662.0 L1230.1,659.4 L1231.6,656.7 L1233.0,654.0 L1234.5,651.3 L1235.9,648.7 L1237.4,646.0 L1238.9,643.4 L1240.4,640.8 L1241.9,638.2 L1243.5,635.6 L1245.0,633.0 L1246.6,630.5 L1248.2,627.9 L1249.8,625.4 L1251.4,622.9 L1253.0,620.4 L1254.7,617.9 L1256.3,615.4 L1257.9,613.0 L1259.6,610.5 L1261.3,608.0 L1262.9,605.6 L1264.6,603.1 L1266.3,600.7 L1267.9,598.2 L1269.6,595.8 L1271.3,593.3 L1273.0,590.8 L1274.6,588.4 L1276.3,585.9 L1277.9,583.5 L1279.6,581.0 L1281.2,578.5 L1282.9,576.0 L1284.5,573.5 L1286.1,571.0 L1287.8,568.5 L1289.4,566.0 L1291.1,563.5 L1292.7,561.0 L1294.4,558.5 L1296.1,556.1 L1297.9,553.6 L1299.6,551.2 L1301.4,548.8 L1303.2,546.4 L1305.1,544.0 L1307.0,541.7 L1308.9,539.4 L1310.9,537.2 L1313.0,534.9 L1315.1,532.8 L1317.3,530.6 L1319.5,528.5 L1321.8,526.5 L1324.2,524.5 L1326.7,522.6 L1329.2,520.7 L1331.8,518.9 L1334.5,517.2 L1337.2,515.6 L1340.0,514.0 L1342.8,512.6 L1345.6,511.2 L1348.5,510.0 L1351.4,508.9 L1354.3,507.9 L1357.2,507.0 L1360.0,506.3 L1362.9,505.8 L1365.7,505.4 L1368.5,505.2 L1371.3,505.2 L1374.0,505.4 L1376.6,505.8 L1379.1,506.3 L1381.6,507.1 L1384.0,508.2 L1386.3,509.4 L1388.5,510.9 L1390.6,512.5 L1392.6,514.3 L1394.6,516.3 L1396.5,518.5 L1398.3,520.8 L1400.1,523.2 L1401.7,525.7 L1403.4,528.4 L1404.9,531.1 L1406.5,533.9 L1407.9,536.7 L1409.4,539.5 L1410.8,542.4 L1412.1,545.3 L1413.4,548.2 L1414.7,551.1 L1416.0,554.0 L1417.2,556.9 L1418.5,559.8 L1419.6,562.7 L1420.8,565.6 L1421.9,568.5 L1423.0,571.3 L1424.1,574.2 L1425.2,577.1 L1426.2,580.0 L1427.2,582.9 L1428.2,585.7 L1429.2,588.6 L1430.1,591.5 L1431.1,594.3 L1432.0,597.2 L1432.9,600.1 L1433.8,602.9 L1434.6,605.8 L1435.5,608.7 L1436.3,611.5 L1437.1,614.4 L1438.0,617.3 L1438.8,620.1 L1439.5,623.0 L1440.3,625.8 L1441.1,628.7 L1441.9,631.6 L1442.6,634.4 L1443.3,637.3 L1444.1,640.2 L1444.8,643.0 L1445.6,645.9 L1446.3,648.8 L1447.0,651.6 L1447.7,654.5 L1448.4,657.4 L1449.2,660.2 L1449.9,663.1 L1450.6,666.0 L1451.3,668.8 L1452.0,671.7 L1452.7,674.6 L1453.5,677.5 L1454.2,680.3 L1454.9,683.2 L1455.6,686.1 L1456.3,689.0 L1457.1,691.8 L1457.8,694.7 L1458.5,697.6 L1459.2,700.5 L1459.9,703.4 L1460.7,706.3 L1461.4,709.1 L1462.1,712.0 L1462.8,714.9 L1463.5,717.8 L1464.3,720.7 L1465.0,723.6 L1465.7,726.5 L1466.4,729.4 L1467.2,732.3 L1467.9,735.1 L1468.6,738.0 L1469.3,740.9 L1470.1,743.8 L1470.8,746.7 L1471.5,749.6 L1472.3,752.5 L1473.0,755.4 L1473.7,758.3 L1474.5,761.2 L1475.2,764.1 L1475.9,767.0 L1476.7,769.9 L1477.4,772.8 L1478.1,775.7 L1478.9,778.6 L1479.6,781.5 L1480.3,784.4 L1481.1,787.3 L1481.8,790.2 L1482.6,793.1 L1483.3,796.0 L1484.0,798.9 L1484.8,801.8 L1485.5,804.7 L1486.3,807.6 L1487.0,810.5 L1487.8,813.4 L1488.5,816.3 L1489.3,819.2 L1490.0,822.1 L1490.8,825.1 L1491.5,828.0 L1492.3,830.9 L1493.1,833.8 L1493.8,836.7 L1494.6,839.6 L1495.3,842.5 L1496.1,845.4 L1496.9,848.3 L1497.6,851.2 L1498.4,854.1 L1499.2,857.0 L1499.9,859.9 L1500.7,862.8 L1501.5,865.7 L1502.3,868.6 L1503.0,871.5 L1503.8,874.4 L1504.6,877.3 L1505.4,880.2 L1506.2,883.2 L1507.0,886.1 L1507.7,889.0 L1508.5,891.9 L1509.3,894.8 L1510.1,897.7 L1510.9,900.6 L1511.7,903.5 L1512.5,906.4 L1513.3,909.3 L1514.1,912.2 L1514.9,915.1 L1515.7,918.0 L1516.5,920.9 L1517.3,923.8 L1518.1,926.7 L1519.0,929.6 L1519.8,932.5 L1520.6,935.4 L1521.4,938.3 L1522.2,941.2 L1523.1,944.1 L1523.9,946.9 L1524.7,949.8 L1525.6,952.7 L1526.4,955.6 L1527.2,958.5 L1528.1,961.4 L1528.9,964.3 L1529.8,967.2 L1530.7,970.1 L1531.5,972.9 L1532.4,975.8 L1533.3,978.7 L1534.1,981.6 L1535.0,984.4 L1535.9,987.3 L1536.8,990.2 L1537.7,993.0 L1538.6,995.9 L1539.5,998.8 L1540.4,1001.6 L1541.4,1004.5 L1542.3,1007.3 L1543.2,1010.2 L1544.2,1013.0 L1545.1,1015.9 L1546.1,1018.7 L1547.0,1021.6 L1548.0,1024.4 L1549.0,1027.2 L1549.9,1030.1 L1550.9,1032.9 L1551.9,1035.7 L1552.9,1038.5 L1554.0,1041.4 L1555.0,1044.2 L1556.0,1047.0 L1557.0,1049.8 L1558.1,1052.6 L1559.2,1055.4 L1560.2,1058.2 L1561.3,1061.0 L1562.4,1063.8 L1563.5,1066.5 L1564.6,1069.3 L1565.7,1072.1 L1566.8,1074.8 L1567.9,1077.6 L1569.1,1080.4 L1570.2,1083.1 L1571.4,1085.9 L1572.6,1088.6 L1573.8,1091.3 L1575.0,1094.1 L1576.2,1096.8 L1577.4,1099.5 L1578.6,1102.2 L1579.9,1104.9 L1581.1,1107.7 L1582.4,1110.4 L1583.7,1113.0 L1585.0,1115.7 L1586.3,1118.4 L1587.6,1121.1 L1588.9,1123.8 L1590.2,1126.4 L1591.6,1129.1 L1593.0,1131.7 L1594.3,1134.4 L1595.7,1137.0 L1597.1,1139.7 L1598.6,1142.3 L1600.0,1144.9 L1601.4,1147.5 L1602.9,1150.1 L1604.4,1152.7 L1605.9,1155.3 L1607.4,1157.9 L1608.9,1160.5 L1610.4,1163.0 L1612.0,1165.6 L1613.6,1168.1 L1615.1,1170.7 L1616.7,1173.2 L1618.3,1175.8 L1620.0,1178.3 L1621.6,1180.8 L1623.3,1183.3 L1625.0,1185.8 L1626.6,1188.3 L1628.4,1190.8 L1630.1,1193.3 L1631.8,1195.7 L1633.6,1198.2 L1635.3,1200.6 L1637.1,1203.0 L1638.9,1205.5 L1640.7,1207.9 L1642.5,1210.3 L1644.4,1212.7 L1646.2,1215.0 L1648.1,1217.4 L1650.0,1219.7 L1651.9,1222.1 L1653.8,1224.4 L1655.8,1226.7 L1657.7,1229.0 L1659.7,1231.3 L1661.6,1233.6 L1663.6,1235.9 L1665.6,1238.1 L1667.7,1240.3 L1669.7,1242.6 L1671.7,1244.8 L1673.8,1247.0 L1675.9,1249.1 L1678.0,1251.3 L1680.1,1253.4 L1682.2,1255.6 L1684.3,1257.7 L1686.5,1259.8 L1688.6,1261.9 L1690.8,1263.9 L1693.0,1266.0 L1695.2,1268.0 L1697.4,1270.0 L1699.7,1272.0 L1701.9,1274.0 L1704.2,1276.0 L1706.5,1277.9 L1708.7,1279.8 L1711.1,1281.7 L1713.4,1283.6 L1715.7,1285.5 L1718.0,1287.3 L1720.4,1289.2 L1722.8,1291.0 L1725.2,1292.8 L1727.6,1294.5 L1730.0,1296.3 L1732.4,1298.0 L1734.8,1299.7 L1737.3,1301.4 L1739.8,1303.1 L1742.3,1304.7 L1744.7,1306.4 L1747.3,1308.0 L1749.8,1309.5 L1752.3,1311.1 L1754.9,1312.6 L1757.4,1314.1 L1760.0,1315.6 L1762.6,1317.1 L1765.2,1318.5 L1767.8,1319.9 L1770.4,1321.3 L1773.1,1322.7 L1775.7,1324.1 L1778.4,1325.4 L1781.1,1326.7 L1783.8,1327.9 L1786.5,1329.2 L1789.2,1330.4 L1791.9,1331.6 L1794.6,1332.8 L1797.4,1333.9 L1800.2,1335.0 L1802.9,1336.1 L1805.7,1337.2 L1808.5,1338.2 L1811.4,1339.2 L1814.2,1340.2 L1817.0,1341.1 L1819.9,1342.0 L1822.8,1342.9 L1825.6,1343.8 L1828.5,1344.6 L1831.4,1345.4 L1834.4,1346.2 L1837.3,1347.0 L1840.2,1347.7 L1843.2,1348.4 L1846.1,1349.0 L1849.1,1349.6 L1852.1,1350.2 L1855.1,1350.8 L1858.1,1351.3 L1861.2,1351.8 L1864.2,1352.3 L1867.2,1352.8 L1870.3,1353.2 L1873.4,1353.5 L1876.5,1353.9 L1879.6,1354.2" stroke="#00b070"/>
<path d="M269.5,1176.8 L271.9,1175.0 L274.3,1173.3 L276.6,1171.5 L279.0,1169.8 L281.4,1168.0 L283.7,1166.2 L286.0,1164.3 L288.4,1162.5 L290.7,1160.7 L293.0,1158.8 L295.3,1156.9 L297.6,1155.0 L299.8,1153.1 L302.1,1151.2 L304.4,1149.2 L306.6,1147.3 L308.8,1145.3 L311.1,1143.3 L313.3,1141.4 L315.5,1139.3 L317.7,1137.3 L319.9,1135.3 L322.0,1133.3 L324.2,1131.2 L326.4,1129.1 L328.5,1127.1 L330.6,1125.0 L332.8,1122.9 L334.9,1120.8 L337.0,1118.6 L339.1,1116.5 L341.2,1114.4 L343.3,1112.2 L345.3,1110.0 L347.4,1107.9 L349.5,1105.7 L351.5,1103.5 L353.5,1101.3 L355.6,1099.1 L357.6,1096.9 L359.6,1094.6 L361.6,1092.4 L363.6,1090.2 L365.6,1087.9 L367.5,1085.6 L369.5,1083.4 L371.5,1081.1 L373.4,1078.8 L375.4,1076.5 L377.3,1074.2 L379.2,1071.9 L381.1,1069.6 L383.0,1067.3 L384.9,1065.0 L386.8,1062.6 L388.7,1060.3 L390.6,1058.0 L392.5,1055.6 L394.3,1053.3 L396.2,1050.9 L398.0,1048.6 L399.8,1046.2 L401.7,1043.8 L403.5,1041.5 L405.3,1039.1 L407.1,1036.7 L408.9,1034.3 L410.7,1031.9 L412.5,1029.5 L414.3,1027.1 L416.1,1024.7 L417.8,1022.3 L419.6,1019.9 L421.4,1017.5 L423.1,1015.1 L424.9,1012.7 L426.7,1010.3 L428.4,1007.9 L430.2,1005.4 L431.9,1003.0 L433.6,1000.6 L435.4,998.2 L437.1,995.8 L438.9,993.3 L440.6,990.9 L442.3,988.5 L444.1,986.0 L445.8,983.6 L447.5,981.2 L449.3,978.8 L451.0,976.3 L452.7,973.9 L454.5,971.5 L456.2,969.0 L457.9,966.6 L459.7,964.2 L461.4,961.7 L463.2,959.3 L464.9,956.9 L466.7,954.4 L468.4,952.0 L470.2,949.6 L471.9,947.2 L473.7,944.8 L475.4,942.3 L477.2,939.9 L479.0,937.5 L480.8,935.1 L482.5,932.7 L484.3,930.3 L486.1,927.9 L487.9,925.5 L489.7,923.1 L491.6,920.7 L493.4,918.3 L495.2,915.9 L497.0,913.5 L498.9,911.1 L500.7,908.8 L502.6,906.4 L504.5,904.1 L506.4,901.7 L508.3,899.4 L510.2,897.1 L512.2,894.8 L514.1,892.6 L516.1,890.3 L518.1,888.1 L520.1,886.0 L522.2,883.8 L524.3,881.7 L526.4,879.6 L528.5,877.5 L530.7,875.5 L532.9,873.5 L535.1,871.6 L537.4,869.7 L539.7,867.8 L542.0,866.0 L544.4,864.3 L546.8,862.6 L549.2,860.9 L551.7,859.3 L554.2,857.7 L556.8,856.2 L559.4,854.7 L562.0,853.2 L564.6,851.8 L567.3,850.4 L570.0,849.0 L572.7,847.7 L575.4,846.4 L578.1,845.1 L580.9,843.8 L583.7,842.6 L586.5,841.3 L589.3,840.1 L592.1,838.9 L594.9,837.6 L597.7,836.4 L600.5,835.2 L603.3,834.0 L606.1,832.8 L608.9,831.5 L611.7,830.3 L614.5,829.0 L617.2,827.7 L620.0,826.4 L622.7,825.1 L625.4,823.8 L628.1,822.4 L630.8,821.0 L633.5,819.6 L636.1,818.1 L638.7,816.6 L641.3,815.1 L643.9,813.5 L646.4,812.0 L649.0,810.3 L651.5,808.7 L653.9,807.0 L656.4,805.3 L658.8,803.6 L661.2,801.9 L663.6,800.1 L666.0,798.3 L668.3,796.5 L670.6,794.6 L672.9,792.7 L675.2,790.8 L677.5,788.9 L679.7,786.9 L681.9,785.0 L684.1,783.0 L686.3,780.9 L688.4,778.9 L690.6,776.8 L692.7,774.7 L694.7,772.6 L696.8,770.5 L698.8,768.3 L700.9,766.1 L702.9,764.0 L704.8,761.7 L706.8,759.5 L708.7,757.2 L710.6,755.0 L712.5,752.7 L714.4,750.4 L716.3,748.0 L718.1,745.7 L719.9,743.3 L721.7,741.0 L723.5,738.6 L725.2,736.2 L726.9,733.7 L728.6,731.3 L730.3,728.8 L732.0,726.4 L733.6,723.9 L735.3,721.4 L736.9,718.9 L738.5,716.4 L740.0,713.8 L741.6,711.3 L743.1,708.7 L744.6,706.2 L746.1,703.6 L747.6,701.0 L749.0,698.4 L750.5,695.8 L751.9,693.1 L753.3,690.5 L754.7,687.9 L756.0,685.2 L757.4,682.6 L758.7,679.9 L760.1,677.2 L761.4,674.5 L762.7,671.8 L763.9,669.1 L765.2,666.4 L766.5,663.7 L767.7,661.0 L769.0,658.2 L770.2,655.5 L771.4,652.7 L772.6,650.0 L773.8,647.2 L775.0,644.5 L776.1,641.7 L777.3,638.9 L778.5,636.2 L779.6,633.4 L780.8,630.6 L781.9,627.8 L783.0,625.0 L784.2,622.2 L785.3,619.4 L786.4,616.6 L787.5,613.8 L788.6,611.0 L789.7,608.2 L790.8,605.3 L791.9,602.5 L793.0,599.7 L794.1,596.9 L795.1,594.1 L796.2,591.3 L797.3,588.4 L798.4,585.6 L799.5,582.8 L800.6,580.0 L801.6,577.2 L802.7,574.3 L803.8,571.5 L804.9,568.7 L806.0,565.9 L807.1,563.1 L808.2,560.3 L809.3,557.5 L810.4,554.6 L811.5,551.8 L812.6,549.0 L813.7,546.3 L814.9,543.5 L816.0,540.7 L817.1,537.9 L818.3,535.1 L819.4,532.3 L820.6,529.6 L821.8,526.8 L822.9,524.0 L824.1,521.3 L825.3,518.5 L826.5,515.8 L827.7,513.1 L829.0,510.3 L830.2,507.6 L831.5,504.9 L832.7,502.2 L834.0,499.5 L835.3,496.8 L836.6,494.1 L837.9,491.4 L839.2,488.8 L840.6,486.1 L841.9,483.5 L843.3,480.8 L844.7,478.2 L846.1,475.6 L847.5,473.0 L849.0,470.4 L850.4,467.8 L851.9,465.2 L853.4,462.7 L854.9,460.1 L856.5,457.6 L858.0,455.1 L859.6,452.5 L861.2,450.0 L862.8,447.5 L864.4,445.0 L866.0,442.5 L867.7,440.1 L869.3,437.6 L871.0,435.1 L872.7,432.6 L874.4,430.1 L876.1,427.7 L877.8,425.2 L879.5,422.7 L881.2,420.2 L882.9,417.7 L884.7,415.2 L886.4,412.7 L888.2,410.1 L889.9,407.6 L891.6,405.1 L893.4,402.5 L895.1,399.9 L896.9,397.3 L898.6,394.8 L900.4,392.2 L902.2,389.7 L904.0,387.4 L905.9,385.1 L907.9,383.0 L909.9,381.1 L912.1,379.4 L914.3,378.0 L916.7,376.9 L919.2,376.1 L921.9,375.6 L924.7,375.5 L927.7,375.8 L930.7,376.4 L933.8,377.3 L936.8,378.4 L939.8,379.7 L942.7,381.1 L945.4,382.6 L948.0,384.3 L950.5,386.0 L952.9,387.9 L955.2,389.8 L957.4,391.9 L959.6,394.0 L961.6,396.2 L963.5,398.4 L965.4,400.8 L967.2,403.1 L969.0,405.6 L970.7,408.1 L972.3,410.6 L973.9,413.1 L975.5,415.7 L977.0,418.3 L978.6,420.9 L980.1,423.6 L981.6,426.2 L983.0,428.9 L984.5,431.5 L986.0,434.1 L987.5,436.8 L988.9,439.4 L990.4,442.0 L991.9,444.7 L993.3,447.3 L994.8,449.9 L996.2,452.5 L997.7,455.1 L999.2,457.7 L1000.6,460.4 L1002.1,463.0 L1003.6,465.6 L1005.0,468.2 L1006.5,470.8 L1008.0,473.4 L1009.5,476.0 L1011.0,478.5 L1012.5,481.1 L1014.0,483.7 L1015.5,486.3 L1017.0,488.8 L1018.5,491.4 L1020.0,494.0 L1021.6,496.5 L1023.1,499.1 L1024.7,501.6 L1026.2,504.2 L1027.8,506.7 L1029.4,509.2 L1031.0,511.7 L1032.6,514.3 L1034.2,516.8 L1035.8,519.3 L1037.5,521.8 L1039.1,524.3 L1040.7,526.8 L1042.4,529.3 L1044.1,531.8 L1045.7,534.3 L1047.4,536.7 L1049.1,539.2 L1050.8,541.7 L1052.5,544.2 L1054.2,546.6 L1056.0,549.1 L1057.7,551.5 L1059.5,554.0 L1061.2,556.4 L1063.0,558.9 L1064.7,561.3 L1066.5,563.7 L1068.3,566.2 L1070.1,568.6 L1072.0,570.9 L1073.8,573.3 L1075.7,575.6 L1077.6,578.0 L1079.6,580.2 L1081.6,582.5 L1083.6,584.7 L1085.6,586.9 L1087.7,589.1 L1089.8,591.2 L1092.0,593.2 L1094.2,595.2 L1096.5,597.2 L1098.8,599.1 L1101.1,601.0 L1103.6,602.7 L1106.1,604.5 L1108.6,606.1 L1111.2,607.7 L1113.9,609.2 L1116.6,610.7 L1119.3,612.0 L1122.1,613.2 L1124.9,614.2 L1127.8,615.1 L1130.6,615.8 L1133.5,616.4 L1136.4,616.8 L1139.2,616.9 L1142.1,616.9 L1145.0,616.6 L1147.8,616.1 L1150.6,615.4 L1153.4,614.5 L1156.1,613.4 L1158.8,612.2 L1161.5,610.8 L1164.1,609.3 L1166.7,607.7 L1169.3,605.9 L1171.8,604.0 L1174.2,602.1 L1176.6,600.1 L1179.0,598.0 L1181.2,595.9 L1183.4,593.7 L1185.5,591.5 L1187.6,589.2 L1189.6,586.9 L1191.6,584.6 L1193.5,582.3 L1195.3,579.9 L1197.1,577.5 L1198.8,575.1 L1200.5,572.6 L1202.1,570.1 L1203.7,567.6 L1205.3,565.1 L1206.8,562.5 L1208.3,559.9 L1209.7,557.3 L1211.1,554.7 L1212.5,552.1 L1213.9,549.4 L1215.2,546.8 L1216.5,544.1 L1217.8,541.4 L1219.0,538.7 L1220.3,536.0 L1221.5,533.3 L1222.7,530.5 L1224.0,527.8 L1225.2,525.1 L1226.4,522.3 L1227.5,519.6 L1228.7,516.8 L1229.9,514.1 L1231.1,511.3 L1232.3,508.6 L1233.5,505.8 L1234.7,503.1 L1235.9,500.3 L1237.1,497.5 L1238.3,494.8 L1239.5,492.0 L1240.7,489.3 L1241.9,486.5 L1243.1,483.8 L1244.3,481.0 L1245.5,478.3 L1246.7,475.5 L1248.0,472.8 L1249.2,470.0 L1250.4,467.3 L1251.6,464.5 L1252.9,461.8 L1254.1,459.0 L1255.3,456.3 L1256.6,453.6 L1257.8,450.8 L1259.1,448.1 L1260.3,445.4 L1261.6,442.7 L1262.9,440.0 L1264.2,437.3 L1265.4,434.5 L1266.7,431.8 L1268.0,429.1 L1269.3,426.4 L1270.6,423.8 L1272.0,421.1 L1273.3,418.4 L1274.6,415.7 L1276.0,413.0 L1277.3,410.4 L1278.7,407.7 L1280.1,405.1 L1281.4,402.4 L1282.8,399.8 L1284.2,397.2 L1285.7,394.5 L1287.1,391.9 L1288.6,389.3 L1290.0,386.7 L1291.5,384.1 L1293.0,381.5 L1294.5,379.0 L1296.0,376.4 L1297.6,373.8 L1299.1,371.3 L1300.7,368.7 L1302.3,366.2 L1303.9,363.7 L1305.5,361.2 L1307.2,358.6 L1308.8,356.1 L1310.5,353.7 L1312.2,351.2 L1314.0,348.7 L1315.7,346.3 L1317.5,343.9 L1319.3,341.5 L1321.2,339.1 L1323.1,336.8 L1325.0,334.4 L1327.0,332.1 L1329.0,329.9 L1331.1,327.7 L1333.2,325.5 L1335.3,323.3 L1337.5,321.2 L1339.8,319.2 L1342.1,317.2 L1344.4,315.2 L1346.9,313.3 L1349.4,311.5 L1351.9,309.7 L1354.5,308.0 L1357.1,306.5 L1359.8,305.1 L1362.5,304.0 L1365.2,303.2 L1368.0,302.8 L1370.7,302.7 L1373.4,303.0 L1376.1,303.7 L1378.8,304.7 L1381.4,306.0 L1383.8,307.5 L1386.2,309.2 L1388.4,310.9 L1390.5,312.9 L1392.4,314.9 L1394.3,317.1 L1396.1,319.4 L1397.7,321.7 L1399.3,324.2 L1400.8,326.7 L1402.2,329.4 L1403.6,332.1 L1404.8,334.8 L1406.1,337.6 L1407.2,340.5 L1408.4,343.3 L1409.4,346.2 L1410.5,349.2 L1411.5,352.1 L1412.5,355.1 L1413.5,358.0 L1414.5,361.0 L1415.4,363.9 L1416.4,366.8 L1417.3,369.8 L1418.2,372.7 L1419.1,375.6 L1420.0,378.5 L1420.9,381.5 L1421.8,384.4 L1422.6,387.3 L1423.5,390.2 L1424.3,393.1 L1425.1,396.0 L1425.9,398.9 L1426.8,401.8 L1427.5,404.7 L1428.3,407.6 L1429.1,410.5 L1429.9,413.4 L1430.7,416.3 L1431.4,419.2 L1432.2,422.1 L1432.9,425.0 L1433.6,427.9 L1434.4,430.8 L1435.1,433.7 L1435.8,436.6 L1436.5,439.5 L1437.2,442.4 L1437.9,445.3 L1438.6,448.2 L1439.3,451.1 L1440.0,454.0 L1440.7,456.9 L1441.4,459.8 L1442.1,462.7 L1442.7,465.6 L1443.4,468.5 L1444.1,471.4 L1444.7,474.3 L1445.4,477.2 L1446.1,480.1 L1446.7,483.0 L1447.4,486.0 L1448.0,488.9 L1448.7,491.8 L1449.3,494.7 L1449.9,497.6 L1450.6,500.5 L1451.2,503.5 L1451.8,506.4 L1452.5,509.3 L1453.1,512.2 L1453.7,515.1 L1454.3,518.1 L1454.9,521.0 L1455.5,523.9 L1456.2,526.8 L1456.8,529.7 L1457.4,532.7 L1458.0,535.6 L1458.6,538.5 L1459.2,541.5 L1459.8,544.4 L1460.3,547.3 L1460.9,550.2 L1461.5,553.2 L1462.1,556.1 L1462.7,559.0 L1463.3,562.0 L1463.8,564.9 L1464.4,567.8 L1465.0,570.8 L1465.6,573.7 L1466.1,576.6 L1466.7,579.6 L1467.3,582.5 L1467.8,585.4 L1468.4,588.4 L1469.0,591.3 L1469.5,594.3 L1470.1,597.2 L1470.7,600.1 L1471.2,603.1 L1471.8,606.0 L1472.3,609.0 L1472.9,611.9 L1473.4,614.8 L1474.0,617.8 L1474.5,620.7 L1475.1,623.7 L1475.6,626.6 L1476.2,629.5 L1476.7,632.5 L1477.3,635.4 L1477.8,638.4 L1478.4,641.3 L1478.9,644.3 L1479.5,647.2 L1480.0,650.2 L1480.5,653.1 L1481.1,656.0 L1481.6,659.0 L1482.2,661.9 L1482.7,664.9 L1483.3,667.8 L1483.8,670.8 L1484.3,673.7 L1484.9,676.7 L1485.4,679.6 L1486.0,682.6 L1486.5,685.5 L1487.1,688.4 L1487.6,691.4 L1488.1,694.3 L1488.7,697.3 L1489.2,700.2 L1489.8,703.2 L1490.3,706.1 L1490.9,709.1 L1491.4,712.0 L1491.9,715.0 L1492.5,717.9 L1493.0,720.8 L1493.6,723.8 L1494.1,726.7 L1494.7,729.7 L1495.2,732.6 L1495.8,735.6 L1496.3,738.5 L1496.9,741.5 L1497.5,744.4 L1498.0,747.4 L1498.6,750.3 L1499.1,753.2 L1499.7,756.2 L1500.3,759.1 L1500.8,762.1 L1501.4,765.0 L1502.0,768.0 L1502.5,770.9 L1503.1,773.8 L1503.7,776.8 L1504.2,779.7 L1504.8,782.7 L1505.4,785.6 L1506.0,788.5 L1506.6,791.5 L1507.1,794.4 L1507.7,797.4 L1508.3,800.3 L1508.9,803.2 L1509.5,806.2 L1510.1,809.1 L1510.7,812.0 L1511.3,815.0 L1511.9,817.9 L1512.5,820.8 L1513.1,823.8 L1513.7,826.7 L1514.3,829.7 L1514.9,832.6 L1515.6,835.5 L1516.2,838.4 L1516.8,841.4 L1517.4,844.3 L1518.1,847.2 L1518.7,850.2 L1519.3,853.1 L1520.0,856.0 L1520.6,858.9 L1521.2,861.9 L1521.9,864.8 L1522.5,867.7 L1523.2,870.6 L1523.9,873.6 L1524.5,876.5 L1525.2,879.4 L1525.9,882.3 L1526.5,885.2 L1527.2,888.2 L1527.9,891.1 L1528.6,894.0 L1529.3,896.9 L1530.0,899.8 L1530.7,902.7 L1531.4,905.7 L1532.1,908.6 L1532.8,911.5 L1533.5,914.4 L1534.2,917.3 L1534.9,920.2 L1535.6,923.1 L1536.4,926.0 L1537.1,928.9 L1537.8,931.8 L1538.6,934.7 L1539.3,937.6 L1540.1,940.5 L1540.8,943.4 L1541.6,946.3 L1542.4,949.2 L1543.1,952.1 L1543.9,955.0 L1544.7,957.9 L1545.5,960.8 L1546.3,963.7 L1547.1,966.6 L1547.9,969.5 L1548.7,972.4 L1549.5,975.3 L1550.3,978.2 L1551.1,981.0 L1552.0,983.9 L1552.8,986.8 L1553.6,989.7 L1554.5,992.6 L1555.3,995.4 L1556.2,998.3 L1557.1,1001.2 L1557.9,1004.1 L1558.8,1007.0 L1559.7,1009.8 L1560.6,1012.7 L1561.5,1015.6 L1562.4,1018.4 L1563.3,1021.3 L1564.2,1024.2 L1565.1,1027.0 L1566.0,1029.9 L1566.9,1032.7 L1567.9,1035.6 L1568.8,1038.5 L1569.8,1041.3 L1570.7,1044.2 L1571.7,1047.0 L1572.7,1049.9 L1573.6,1052.7 L1574.6,1055.6 L1575.6,1058.4 L1576.6,1061.2 L1577.6,1064.1 L1578.6,1066.9 L1579.6,1069.7 L1580.7,1072.6 L1581.7,1075.4 L1582.8,1078.2 L1583.8,1081.0 L1584.9,1083.9 L1585.9,1086.7 L1587.0,1089.5 L1588.1,1092.3 L1589.2,1095.1 L1590.3,1097.9 L1591.4,1100.7 L1592.6,1103.5 L1593.7,1106.2 L1594.8,1109.0 L1596.0,1111.8 L1597.1,1114.6 L1598.3,1117.3 L1599.5,1120.1 L1600.7,1122.8 L1601.9,1125.6 L1603.1,1128.3 L1604.3,1131.1 L1605.6,1133.8 L1606.8,1136.5 L1608.1,1139.2 L1609.3,1142.0 L1610.6,1144.7 L1611.9,1147.4 L1613.2,1150.1 L1614.5,1152.8 L1615.8,1155.4 L1617.2,1158.1 L1618.5,1160.8 L1619.9,1163.4 L1621.2,1166.1 L1622.6,1168.8 L1624.0,1171.4 L1625.4,1174.0 L1626.8,1176.6 L1628.3,1179.3 L1629.7,1181.9 L1631.2,1184.5 L1632.6,1187.1 L1634.1,1189.7 L1635.6,1192.2 L1637.1,1194.8 L1638.6,1197.4 L1640.2,1199.9 L1641.7,1202.5 L1643.3,1205.0 L1644.9,1207.5 L1646.5,1210.0 L1648.1,1212.6 L1649.7,1215.1 L1651.3,1217.5 L1653.0,1220.0 L1654.6,1222.5 L1656.3,1224.9 L1658.0,1227.4 L1659.7,1229.8 L1661.5,1232.3 L1663.2,1234.7 L1664.9,1237.1 L1666.7,1239.5 L1668.5,1241.9 L1670.3,1244.3 L1672.1,1246.6 L1674.0,1249.0 L1675.8,1251.3 L1677.7,1253.7 L1679.6,1256.0 L1681.5,1258.3 L1683.4,1260.6 L1685.3,1262.9 L1687.2,1265.1 L1689.2,1267.4 L1691.2,1269.6 L1693.2,1271.8 L1695.2,1274.0 L1697.2,1276.2 L1699.3,1278.4 L1701.3,1280.6 L1703.4,1282.7 L1705.5,1284.8 L1707.6,1287.0 L1709.8,1289.0 L1711.9,1291.1 L1714.1,1293.2 L1716.3,1295.2 L1718.5,1297.2 L1720.7,1299.2 L1722.9,1301.2 L1725.2,1303.2 L1727.4,1305.1 L1729.7,1307.0 L1732.0,1308.9 L1734.4,1310.8 L1736.7,1312.6 L1739.1,1314.5 L1741.5,1316.3 L1743.9,1318.0 L1746.3,1319.8 L1748.7,1321.5 L1751.2,1323.2 L1753.6,1324.9 L1756.1,1326.6 L1758.6,1328.2 L1761.1,1329.8 L1763.7,1331.4 L1766.3,1333.0 L1768.8,1334.5 L1771.4,1336.0 L1774.1,1337.5 L1776.7,1338.9 L1779.4,1340.3 L1782.0,1341.7 L1784.7,1343.1 L1787.5,1344.4 L1790.2,1345.7 L1792.9,1347.0 L1795.7,1348.2 L1798.5,1349.4 L1801.3,1350.6 L1804.2,1351.7 L1807.0,1352.9 L1809.9,1353.9 L1812.8,1355.0" stroke="#c874e2"/>
</g>
<path d="M376.1,1353.5 V1328.5 M590.8,1353.5 V1328.5 M805.5,1353.5 V1328.5 M1020.2,1353.5 V1328.5 M1234.9,1353.5 V1328.5 M1449.6,1353.5 V1328.5 M1664.3,1353.5 V1328.5 M1879.0,1353.5 V1328.5 M483.4,1353.5 V1341.0 M698.1,1353.5 V1341.0 M912.8,1353.5 V1341.0 M1127.5,1353.5 V1341.0 M1342.2,1353.5 V1341.0 M1556.9,1353.5 V1341.0 M1771.6,1353.5 V1341.0 M268.7,1353.5 H293.7 M268.7,1245.4 H281.2 M268.7,1137.3 H293.7 M268.7,1029.2 H281.2 M268.7,921.1 H293.7 M268.7,813.0 H281.2 M268.7,704.9 H293.7 M268.7,596.8 H281.2 M268.7,488.7 H293.7 M268.7,380.6 H281.2 M268.7,272.5 H293.7 M268.7,164.4 H281.2 M268.7,56.3 H293.7" stroke="#000" stroke-width="4.6" fill="none"/>
<rect x="268.7" y="56.3" width="1610.3" height="1297.2" fill="none" stroke="#000" stroke-width="4.8" stroke-linejoin="miter"/>
<text x="143.7" y="1370.5" font-size="56">0.00</text>
<text x="144.7" y="1154.3" font-size="56">0.02</text>
<text x="142.7" y="938.1" font-size="56">0.04</text>
<text x="143.7" y="721.9" font-size="56">0.06</text>
<text x="143.7" y="505.7" font-size="56">0.08</text>
<text x="143.7" y="289.5" font-size="56">0.10</text>
<text x="144.7" y="73.3" font-size="56">0.12</text>
<text x="334.6" y="1423.5" font-size="56">460</text>
<text x="549.3" y="1423.5" font-size="56">480</text>
<text x="763.0" y="1423.5" font-size="56">500</text>
<text x="977.7" y="1423.5" font-size="56">520</text>
<text x="1192.4" y="1423.5" font-size="56">540</text>
<text x="1407.1" y="1423.5" font-size="56">560</text>
<text x="1621.8" y="1423.5" font-size="56">580</text>
<text x="1837.0" y="1423.5" font-size="56">600</text>
<line x1="328.5" y1="127.3" x2="457.7" y2="127.3" stroke="#474747" stroke-width="4"/>
<text x="470.0" y="145.5" font-size="56">[SPC]</text>
<text x="602.8" y="160.0" font-size="39">0</text>
<text transform="translate(637,145.5) scale(1.17,1)" x="-3" y="0" font-size="56">=</text>
<text x="683.1" y="145.5" font-size="56">10</text>
<text transform="translate(753.3,145.5) scale(0.95,1)" x="-2" y="0" font-size="56">µM</text>
<line x1="328.5" y1="209.0" x2="457.7" y2="209.0" stroke="#ff3535" stroke-width="4"/>
<text x="470.0" y="227.2" font-size="56">[SPC]</text>
<text x="602.8" y="241.7" font-size="39">0</text>
<text transform="translate(637,227.2) scale(1.17,1)" x="-3" y="0" font-size="56">=</text>
<text x="686.1" y="227.2" font-size="56">20</text>
<text transform="translate(753.3,227.2) scale(0.95,1)" x="-2" y="0" font-size="56">µM</text>
<line x1="328.5" y1="290.7" x2="457.7" y2="290.7" stroke="#006ae2" stroke-width="4"/>
<text x="470.0" y="308.9" font-size="56">[SPC]</text>
<text x="602.8" y="323.4" font-size="39">0</text>
<text transform="translate(637,308.9) scale(1.17,1)" x="-3" y="0" font-size="56">=</text>
<text x="685.1" y="308.9" font-size="56">30</text>
<text transform="translate(753.3,308.9) scale(0.95,1)" x="-2" y="0" font-size="56">µM</text>
<line x1="328.5" y1="372.4" x2="457.7" y2="372.4" stroke="#00b070" stroke-width="4"/>
<text x="470.0" y="390.6" font-size="56">[SPC]</text>
<text x="602.8" y="405.1" font-size="39">0</text>
<text transform="translate(637,390.6) scale(1.17,1)" x="-3" y="0" font-size="56">=</text>
<text x="687.1" y="390.6" font-size="56">40</text>
<text transform="translate(753.3,390.6) scale(0.95,1)" x="-2" y="0" font-size="56">µM</text>
<line x1="328.5" y1="454.1" x2="457.7" y2="454.1" stroke="#c874e2" stroke-width="4"/>
<text x="470.0" y="472.3" font-size="56">[SPC]</text>
<text x="602.8" y="486.8" font-size="39">0</text>
<text transform="translate(637,472.3) scale(1.17,1)" x="-3" y="0" font-size="56">=</text>
<text x="685.1" y="472.3" font-size="56">50</text>
<text transform="translate(753.3,472.3) scale(0.95,1)" x="-2" y="0" font-size="56">µM</text>
<text x="1708.0" y="185.0" font-size="111">(a)</text>
<text x="837.0" y="1529.0" font-size="68.5">Wavelength (nm)</text>
<g transform="translate(115.8,1010.4) rotate(-90)"><text x="-1.0" y="0" font-size="68">Absorbance of</text><text x="428.3" y="0" font-size="68">DPD</text><text x="568.4" y="-29.8" font-size="46">•</text><text x="586.7" y="-29.3" font-size="46">+</text></g>
<g clip-path="url(#clipB)">
<line x1="270.2" y1="2994.6" x2="1772.6" y2="1788.7" stroke="#ff0000" stroke-width="3.2"/>
<circle cx="270.2" cy="2993.4" r="16" fill="#ff0000"/>
<circle cx="570.7" cy="2767.2" r="16" fill="#ff0000"/>
<path d="M570.7,2755.1 V2779.4 M557.2,2755.1 H584.2 M557.2,2779.4 H584.2" stroke="#ff0000" stroke-width="2.2" fill="none"/>
<circle cx="871.1" cy="2504.8" r="16" fill="#ff0000"/>
<path d="M871.1,2492.0 V2517.7 M857.6,2492.0 H884.6 M857.6,2517.7 H884.6" stroke="#ff0000" stroke-width="2.2" fill="none"/>
<circle cx="1171.6" cy="2278.1" r="16" fill="#ff0000"/>
<path d="M1171.6,2261.1 V2295.0 M1158.1,2261.1 H1185.1 M1158.1,2295.0 H1185.1" stroke="#ff0000" stroke-width="2.2" fill="none"/>
<circle cx="1472.1" cy="2017.4" r="16" fill="#ff0000"/>
<path d="M1472.1,2000.4 V2034.3 M1458.6,2000.4 H1485.6 M1458.6,2034.3 H1485.6" stroke="#ff0000" stroke-width="2.2" fill="none"/>
<circle cx="1772.6" cy="1799.0" r="16" fill="#ff0000"/>
<path d="M1772.6,1773.5 V1824.4 M1759.1,1773.5 H1786.1 M1759.1,1824.4 H1786.1" stroke="#ff0000" stroke-width="2.2" fill="none"/>
<line x1="270.2" y1="2993.4" x2="1772.6" y2="1872.3" stroke="#000" stroke-width="3.2"/>
<rect x="255.7" y="2978.9" width="29" height="29" fill="#000"/>
<rect x="556.2" y="2748.5" width="29" height="29" fill="#000"/>
<path d="M570.7,2759.4 V2766.6 M557.2,2759.4 H584.2 M557.2,2766.6 H584.2" stroke="#000" stroke-width="2.2" fill="none"/>
<rect x="856.6" y="2521.2" width="29" height="29" fill="#000"/>
<path d="M871.1,2505.4 V2566.0 M857.6,2505.4 H884.6 M857.6,2566.0 H884.6" stroke="#000" stroke-width="2.2" fill="none"/>
<rect x="1157.1" y="2304.7" width="29" height="29" fill="#000"/>
<path d="M1171.6,2315.5 V2322.8 M1158.1,2315.5 H1185.1 M1158.1,2322.8 H1185.1" stroke="#000" stroke-width="2.2" fill="none"/>
<rect x="1457.6" y="2082.0" width="29" height="29" fill="#000"/>
<path d="M1472.1,2092.9 V2100.2 M1458.6,2092.9 H1485.6 M1458.6,2100.2 H1485.6" stroke="#000" stroke-width="2.2" fill="none"/>
<rect x="1758.1" y="1873.8" width="29" height="29" fill="#000"/>
<path d="M1772.6,1871.8 V1904.8 M1759.1,1871.8 H1786.1 M1759.1,1904.8 H1786.1" stroke="#000" stroke-width="2.2" fill="none"/>
</g>
<path d="M270.2,2993.4 V2967.9 M570.7,2993.4 V2967.9 M871.1,2993.4 V2967.9 M1171.6,2993.4 V2967.9 M1472.1,2993.4 V2967.9 M1772.6,2993.4 V2967.9 M420.4,2993.4 V2980.9 M720.9,2993.4 V2980.9 M1021.4,2993.4 V2980.9 M1321.9,2993.4 V2980.9 M1622.3,2993.4 V2980.9 M270.2,2993.4 H295.7 M270.2,2872.2 H282.7 M270.2,2751.0 H295.7 M270.2,2629.8 H282.7 M270.2,2508.6 H295.7 M270.2,2387.4 H282.7 M270.2,2266.2 H295.7 M270.2,2145.0 H282.7 M270.2,2023.8 H295.7 M270.2,1902.6 H282.7 M270.2,1781.4 H295.7 M270.2,1660.2 H282.7" stroke="#000" stroke-width="4.6" fill="none"/>
<rect x="270.2" y="1660.2" width="1652.6" height="1333.2" fill="none" stroke="#000" stroke-width="4.8"/>
<text x="143.1" y="3010.2" font-size="57">0.00</text>
<text x="144.1" y="2767.8" font-size="57">0.02</text>
<text x="141.1" y="2525.4" font-size="57">0.04</text>
<text x="142.1" y="2283.0" font-size="57">0.06</text>
<text x="143.1" y="2040.6" font-size="57">0.08</text>
<text x="143.1" y="1798.2" font-size="57">0.10</text>
<text x="255.7" y="3065.5" font-size="58">0</text>
<text x="540.2" y="3065.5" font-size="58">10</text>
<text x="841.6" y="3065.5" font-size="58">20</text>
<text x="1142.1" y="3065.5" font-size="58">30</text>
<text x="1443.6" y="3065.5" font-size="58">40</text>
<text x="1743.1" y="3065.5" font-size="58">50</text>
<circle cx="725.6" cy="2768.8" r="16" fill="#ff0000"/>
<rect x="711.2" y="2854.9" width="29" height="29" fill="#000"/>
<text x="810.3" y="2790.0" font-size="63">λ</text><text x="839.8" y="2806.0" font-size="43">551 nm</text><text x="1018.1" y="2790.0" font-size="63">k=1.99×10</text><text x="1291.5" y="2764.0" font-size="42">3</text><text x="1329.1" y="2790.0" font-size="63">M</text><text x="1384.9" y="2764.0" font-size="42">−1</text><text x="1447.2" y="2790.0" font-size="63">cm</text><text x="1522.3" y="2764.0" font-size="42">−1</text><text x="1568.3" y="2790.0" font-size="63">,</text><text x="1599.0" y="2790.0" font-size="63">R</text><text x="1641.4" y="2764.0" font-size="42">2</text><text x="1659.4" y="2790.0" font-size="63">=0.9995</text>
<text x="810.3" y="2890.0" font-size="63">λ</text><text x="839.8" y="2906.0" font-size="43">510 nm</text><text x="1018.1" y="2890.0" font-size="63">k=1.85×10</text><text x="1291.5" y="2864.0" font-size="42">3</text><text x="1329.1" y="2890.0" font-size="63">M</text><text x="1384.9" y="2864.0" font-size="42">−1</text><text x="1447.2" y="2890.0" font-size="63">cm</text><text x="1522.3" y="2864.0" font-size="42">−1</text><text x="1568.3" y="2890.0" font-size="63">,</text><text x="1599.0" y="2890.0" font-size="63">R</text><text x="1641.4" y="2864.0" font-size="42">2</text><text x="1659.4" y="2890.0" font-size="63">=0.9994</text>
<text x="353.1" y="1794.0" font-size="112">(b)</text>
<text x="710.4" y="3172.5" font-size="69.2">Concentration of SPC (µM)</text>
<g transform="translate(113.2,2638.4) rotate(-90)"><text x="-1.0" y="0" font-size="70">Absorbance of</text><text x="441.5" y="0" font-size="70">DPD</text><text x="581.2" y="-28.0" font-size="46">•</text><text x="595.5" y="-25.7" font-size="52">+</text></g>
</svg>
</body></html>
